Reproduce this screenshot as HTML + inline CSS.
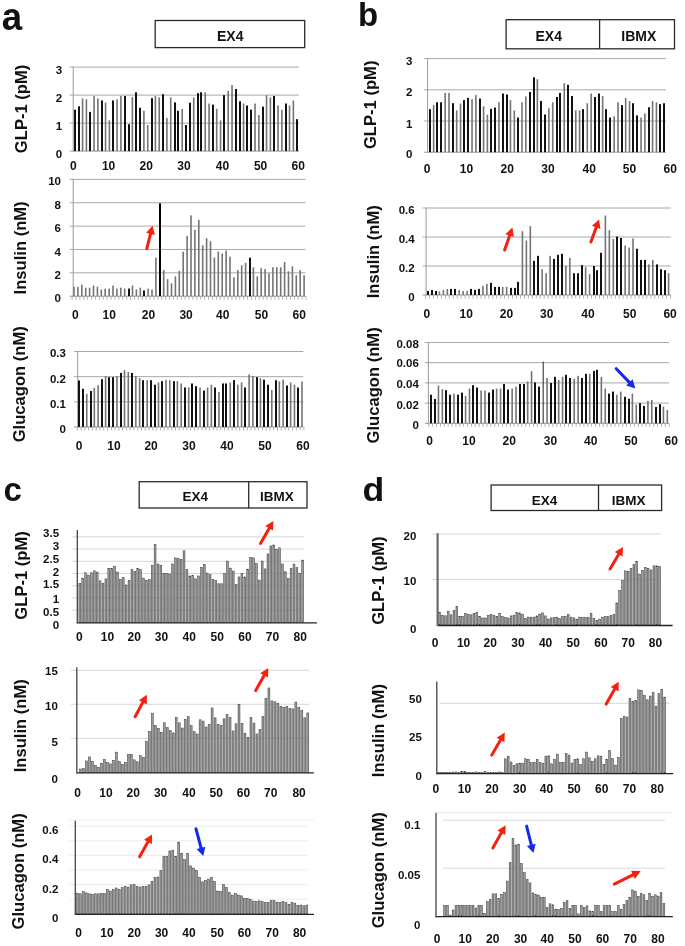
<!DOCTYPE html>
<html><head><meta charset="utf-8"><title>Figure</title>
<style>
html,body{margin:0;padding:0;background:#fff;}
body{width:685px;height:946px;overflow:hidden;font-family:"Liberation Sans",sans-serif;}
svg{display:block;filter:blur(0.4px);}
</style></head><body>
<svg width="685" height="946" viewBox="0 0 685 946" font-family="Liberation Sans, sans-serif" font-weight="bold" fill="#111">
<rect width="685" height="946" fill="#fff"/>
<line x1="69.7" y1="123.1" x2="299" y2="123.1" stroke="#a8a8a8" stroke-width="1.0"/>
<line x1="69.7" y1="95.1" x2="299" y2="95.1" stroke="#a8a8a8" stroke-width="1.0"/>
<line x1="69.7" y1="67.1" x2="299" y2="67.1" stroke="#a8a8a8" stroke-width="1.0"/>
<line x1="69.7" y1="151.1" x2="299" y2="151.1" stroke="#9a9a9a" stroke-width="1.0"/>
<line x1="73.2" y1="66.6" x2="73.2" y2="151.6" stroke="#9a9a9a" stroke-width="1.0"/>
<rect x="74" y="109.66" width="2" height="41.44" fill="#121212"/>
<rect x="78" y="106.3" width="2" height="44.8" fill="#121212"/>
<rect x="81.77" y="98.46" width="1.6" height="52.64" fill="#747474"/>
<rect x="85.6" y="99.3" width="1.6" height="51.8" fill="#747474"/>
<rect x="89" y="111.9" width="2" height="39.2" fill="#121212"/>
<rect x="93.26" y="95.94" width="1.6" height="55.16" fill="#747474"/>
<rect x="97.1" y="98.46" width="1.6" height="52.64" fill="#747474"/>
<rect x="101" y="100.42" width="2" height="50.68" fill="#121212"/>
<rect x="104.76" y="102.66" width="1.6" height="48.44" fill="#747474"/>
<rect x="108.59" y="120.3" width="1.6" height="30.8" fill="#747474"/>
<rect x="112" y="100.42" width="2" height="50.68" fill="#121212"/>
<rect x="116.26" y="99.3" width="1.6" height="51.8" fill="#747474"/>
<rect x="120.09" y="95.94" width="1.6" height="55.16" fill="#747474"/>
<rect x="124" y="95.94" width="2" height="55.16" fill="#121212"/>
<rect x="128" y="124.22" width="2" height="26.88" fill="#121212"/>
<rect x="131.59" y="97.06" width="1.6" height="54.04" fill="#747474"/>
<rect x="135" y="92.3" width="2" height="58.8" fill="#121212"/>
<rect x="139" y="107.7" width="2" height="43.4" fill="#121212"/>
<rect x="143.09" y="110.78" width="1.6" height="40.32" fill="#747474"/>
<rect x="146.92" y="125.06" width="1.6" height="26.04" fill="#747474"/>
<rect x="151" y="98.18" width="2" height="52.92" fill="#121212"/>
<rect x="154.59" y="95.94" width="1.6" height="55.16" fill="#747474"/>
<rect x="158.42" y="97.34" width="1.6" height="53.76" fill="#747474"/>
<rect x="162" y="94.26" width="2" height="56.84" fill="#121212"/>
<rect x="166.09" y="118.06" width="1.6" height="33.04" fill="#747474"/>
<rect x="169.92" y="97.34" width="1.6" height="53.76" fill="#747474"/>
<rect x="174" y="102.38" width="2" height="48.72" fill="#121212"/>
<rect x="177" y="110.78" width="2" height="40.32" fill="#121212"/>
<rect x="181.42" y="108.82" width="1.6" height="42.28" fill="#747474"/>
<rect x="185" y="125.06" width="2" height="26.04" fill="#121212"/>
<rect x="189" y="102.66" width="2" height="48.44" fill="#121212"/>
<rect x="192.92" y="97.34" width="1.6" height="53.76" fill="#747474"/>
<rect x="197" y="93.14" width="2" height="57.96" fill="#121212"/>
<rect x="200" y="92.3" width="2" height="58.8" fill="#121212"/>
<rect x="204.41" y="92.3" width="1.6" height="58.8" fill="#747474"/>
<rect x="208.25" y="103.5" width="1.6" height="47.6" fill="#747474"/>
<rect x="212" y="104.62" width="2" height="46.48" fill="#121212"/>
<rect x="215.91" y="108.82" width="1.6" height="42.28" fill="#747474"/>
<rect x="219.74" y="120.3" width="1.6" height="30.8" fill="#747474"/>
<rect x="223" y="95.1" width="2" height="56" fill="#121212"/>
<rect x="227.41" y="90.9" width="1.6" height="60.2" fill="#747474"/>
<rect x="231.24" y="85.02" width="1.6" height="66.08" fill="#747474"/>
<rect x="235" y="88.94" width="2" height="62.16" fill="#121212"/>
<rect x="239" y="101.26" width="2" height="49.84" fill="#121212"/>
<rect x="242.74" y="103.5" width="1.6" height="47.6" fill="#747474"/>
<rect x="246" y="105.46" width="2" height="45.64" fill="#121212"/>
<rect x="250" y="109.66" width="2" height="41.44" fill="#121212"/>
<rect x="254.24" y="103.5" width="1.6" height="47.6" fill="#747474"/>
<rect x="258.07" y="114.98" width="1.6" height="36.12" fill="#747474"/>
<rect x="262" y="106.58" width="2" height="44.52" fill="#121212"/>
<rect x="265.74" y="95.1" width="1.6" height="56" fill="#747474"/>
<rect x="269.57" y="97.34" width="1.6" height="53.76" fill="#747474"/>
<rect x="273" y="95.94" width="2" height="55.16" fill="#121212"/>
<rect x="277.24" y="105.46" width="1.6" height="45.64" fill="#747474"/>
<rect x="281.07" y="109.66" width="1.6" height="41.44" fill="#747474"/>
<rect x="285" y="103.5" width="2" height="47.6" fill="#121212"/>
<rect x="288.73" y="105.46" width="1.6" height="45.64" fill="#747474"/>
<rect x="292.57" y="100.42" width="1.6" height="50.68" fill="#747474"/>
<rect x="296" y="119.18" width="2" height="31.92" fill="#121212"/>
<line x1="69.7" y1="272.84" x2="305.6" y2="272.84" stroke="#a8a8a8" stroke-width="1.0"/>
<line x1="69.7" y1="249.48" x2="305.6" y2="249.48" stroke="#a8a8a8" stroke-width="1.0"/>
<line x1="69.7" y1="226.12" x2="305.6" y2="226.12" stroke="#a8a8a8" stroke-width="1.0"/>
<line x1="69.7" y1="202.76" x2="305.6" y2="202.76" stroke="#a8a8a8" stroke-width="1.0"/>
<line x1="69.7" y1="179.4" x2="305.6" y2="179.4" stroke="#a8a8a8" stroke-width="1.0"/>
<line x1="69.7" y1="296.2" x2="305.6" y2="296.2" stroke="#9a9a9a" stroke-width="1.0"/>
<line x1="73.2" y1="178.9" x2="73.2" y2="296.7" stroke="#9a9a9a" stroke-width="1.0"/>
<line x1="72.05" y1="296.2" x2="72.05" y2="299.7" stroke="#9a9a9a" stroke-width="0.8"/>
<line x1="75.95" y1="296.2" x2="75.95" y2="299.7" stroke="#9a9a9a" stroke-width="0.8"/>
<line x1="79.85" y1="296.2" x2="79.85" y2="299.7" stroke="#9a9a9a" stroke-width="0.8"/>
<line x1="83.75" y1="296.2" x2="83.75" y2="299.7" stroke="#9a9a9a" stroke-width="0.8"/>
<line x1="87.65" y1="296.2" x2="87.65" y2="299.7" stroke="#9a9a9a" stroke-width="0.8"/>
<line x1="91.55" y1="296.2" x2="91.55" y2="299.7" stroke="#9a9a9a" stroke-width="0.8"/>
<line x1="95.45" y1="296.2" x2="95.45" y2="299.7" stroke="#9a9a9a" stroke-width="0.8"/>
<line x1="99.35" y1="296.2" x2="99.35" y2="299.7" stroke="#9a9a9a" stroke-width="0.8"/>
<line x1="103.25" y1="296.2" x2="103.25" y2="299.7" stroke="#9a9a9a" stroke-width="0.8"/>
<line x1="107.15" y1="296.2" x2="107.15" y2="299.7" stroke="#9a9a9a" stroke-width="0.8"/>
<line x1="111.05" y1="296.2" x2="111.05" y2="299.7" stroke="#9a9a9a" stroke-width="0.8"/>
<line x1="114.95" y1="296.2" x2="114.95" y2="299.7" stroke="#9a9a9a" stroke-width="0.8"/>
<line x1="118.85" y1="296.2" x2="118.85" y2="299.7" stroke="#9a9a9a" stroke-width="0.8"/>
<line x1="122.75" y1="296.2" x2="122.75" y2="299.7" stroke="#9a9a9a" stroke-width="0.8"/>
<line x1="126.65" y1="296.2" x2="126.65" y2="299.7" stroke="#9a9a9a" stroke-width="0.8"/>
<line x1="130.55" y1="296.2" x2="130.55" y2="299.7" stroke="#9a9a9a" stroke-width="0.8"/>
<line x1="134.45" y1="296.2" x2="134.45" y2="299.7" stroke="#9a9a9a" stroke-width="0.8"/>
<line x1="138.35" y1="296.2" x2="138.35" y2="299.7" stroke="#9a9a9a" stroke-width="0.8"/>
<line x1="142.25" y1="296.2" x2="142.25" y2="299.7" stroke="#9a9a9a" stroke-width="0.8"/>
<line x1="146.15" y1="296.2" x2="146.15" y2="299.7" stroke="#9a9a9a" stroke-width="0.8"/>
<line x1="150.05" y1="296.2" x2="150.05" y2="299.7" stroke="#9a9a9a" stroke-width="0.8"/>
<line x1="153.95" y1="296.2" x2="153.95" y2="299.7" stroke="#9a9a9a" stroke-width="0.8"/>
<line x1="157.85" y1="296.2" x2="157.85" y2="299.7" stroke="#9a9a9a" stroke-width="0.8"/>
<line x1="161.75" y1="296.2" x2="161.75" y2="299.7" stroke="#9a9a9a" stroke-width="0.8"/>
<line x1="165.65" y1="296.2" x2="165.65" y2="299.7" stroke="#9a9a9a" stroke-width="0.8"/>
<line x1="169.55" y1="296.2" x2="169.55" y2="299.7" stroke="#9a9a9a" stroke-width="0.8"/>
<line x1="173.45" y1="296.2" x2="173.45" y2="299.7" stroke="#9a9a9a" stroke-width="0.8"/>
<line x1="177.35" y1="296.2" x2="177.35" y2="299.7" stroke="#9a9a9a" stroke-width="0.8"/>
<line x1="181.25" y1="296.2" x2="181.25" y2="299.7" stroke="#9a9a9a" stroke-width="0.8"/>
<line x1="185.15" y1="296.2" x2="185.15" y2="299.7" stroke="#9a9a9a" stroke-width="0.8"/>
<line x1="189.05" y1="296.2" x2="189.05" y2="299.7" stroke="#9a9a9a" stroke-width="0.8"/>
<line x1="192.95" y1="296.2" x2="192.95" y2="299.7" stroke="#9a9a9a" stroke-width="0.8"/>
<line x1="196.85" y1="296.2" x2="196.85" y2="299.7" stroke="#9a9a9a" stroke-width="0.8"/>
<line x1="200.75" y1="296.2" x2="200.75" y2="299.7" stroke="#9a9a9a" stroke-width="0.8"/>
<line x1="204.65" y1="296.2" x2="204.65" y2="299.7" stroke="#9a9a9a" stroke-width="0.8"/>
<line x1="208.55" y1="296.2" x2="208.55" y2="299.7" stroke="#9a9a9a" stroke-width="0.8"/>
<line x1="212.45" y1="296.2" x2="212.45" y2="299.7" stroke="#9a9a9a" stroke-width="0.8"/>
<line x1="216.35" y1="296.2" x2="216.35" y2="299.7" stroke="#9a9a9a" stroke-width="0.8"/>
<line x1="220.25" y1="296.2" x2="220.25" y2="299.7" stroke="#9a9a9a" stroke-width="0.8"/>
<line x1="224.15" y1="296.2" x2="224.15" y2="299.7" stroke="#9a9a9a" stroke-width="0.8"/>
<line x1="228.05" y1="296.2" x2="228.05" y2="299.7" stroke="#9a9a9a" stroke-width="0.8"/>
<line x1="231.95" y1="296.2" x2="231.95" y2="299.7" stroke="#9a9a9a" stroke-width="0.8"/>
<line x1="235.85" y1="296.2" x2="235.85" y2="299.7" stroke="#9a9a9a" stroke-width="0.8"/>
<line x1="239.75" y1="296.2" x2="239.75" y2="299.7" stroke="#9a9a9a" stroke-width="0.8"/>
<line x1="243.65" y1="296.2" x2="243.65" y2="299.7" stroke="#9a9a9a" stroke-width="0.8"/>
<line x1="247.55" y1="296.2" x2="247.55" y2="299.7" stroke="#9a9a9a" stroke-width="0.8"/>
<line x1="251.45" y1="296.2" x2="251.45" y2="299.7" stroke="#9a9a9a" stroke-width="0.8"/>
<line x1="255.35" y1="296.2" x2="255.35" y2="299.7" stroke="#9a9a9a" stroke-width="0.8"/>
<line x1="259.25" y1="296.2" x2="259.25" y2="299.7" stroke="#9a9a9a" stroke-width="0.8"/>
<line x1="263.15" y1="296.2" x2="263.15" y2="299.7" stroke="#9a9a9a" stroke-width="0.8"/>
<line x1="267.05" y1="296.2" x2="267.05" y2="299.7" stroke="#9a9a9a" stroke-width="0.8"/>
<line x1="270.95" y1="296.2" x2="270.95" y2="299.7" stroke="#9a9a9a" stroke-width="0.8"/>
<line x1="274.85" y1="296.2" x2="274.85" y2="299.7" stroke="#9a9a9a" stroke-width="0.8"/>
<line x1="278.75" y1="296.2" x2="278.75" y2="299.7" stroke="#9a9a9a" stroke-width="0.8"/>
<line x1="282.65" y1="296.2" x2="282.65" y2="299.7" stroke="#9a9a9a" stroke-width="0.8"/>
<line x1="286.55" y1="296.2" x2="286.55" y2="299.7" stroke="#9a9a9a" stroke-width="0.8"/>
<line x1="290.45" y1="296.2" x2="290.45" y2="299.7" stroke="#9a9a9a" stroke-width="0.8"/>
<line x1="294.35" y1="296.2" x2="294.35" y2="299.7" stroke="#9a9a9a" stroke-width="0.8"/>
<line x1="298.25" y1="296.2" x2="298.25" y2="299.7" stroke="#9a9a9a" stroke-width="0.8"/>
<line x1="302.15" y1="296.2" x2="302.15" y2="299.7" stroke="#9a9a9a" stroke-width="0.8"/>
<line x1="306.05" y1="296.2" x2="306.05" y2="299.7" stroke="#9a9a9a" stroke-width="0.8"/>
<rect x="73.2" y="286.74" width="1.6" height="9.46" fill="#747474"/>
<rect x="77.1" y="286.74" width="1.6" height="9.46" fill="#747474"/>
<rect x="81" y="284.64" width="1.6" height="11.56" fill="#747474"/>
<rect x="84.9" y="287.67" width="1.6" height="8.53" fill="#747474"/>
<rect x="88.8" y="287.67" width="1.6" height="8.53" fill="#747474"/>
<rect x="92.7" y="285.57" width="1.6" height="10.63" fill="#747474"/>
<rect x="96.6" y="286.74" width="1.6" height="9.46" fill="#747474"/>
<rect x="100.5" y="289.54" width="1.6" height="6.66" fill="#747474"/>
<rect x="104.4" y="288.61" width="1.6" height="7.59" fill="#747474"/>
<rect x="108.3" y="288.61" width="1.6" height="7.59" fill="#747474"/>
<rect x="112.2" y="285.57" width="1.6" height="10.63" fill="#747474"/>
<rect x="116.1" y="288.61" width="1.6" height="7.59" fill="#747474"/>
<rect x="120" y="287.67" width="1.6" height="8.53" fill="#747474"/>
<rect x="123.9" y="288.61" width="1.6" height="7.59" fill="#747474"/>
<rect x="128" y="288.61" width="2" height="7.59" fill="#121212"/>
<rect x="131.7" y="285.57" width="1.6" height="10.63" fill="#747474"/>
<rect x="135.6" y="289.54" width="1.6" height="6.66" fill="#747474"/>
<rect x="139.5" y="287.67" width="1.6" height="8.53" fill="#747474"/>
<rect x="143" y="290.48" width="2" height="5.72" fill="#121212"/>
<rect x="147.3" y="288.61" width="1.6" height="7.59" fill="#747474"/>
<rect x="151.2" y="289.54" width="1.6" height="6.66" fill="#747474"/>
<rect x="155.1" y="257.66" width="1.6" height="38.54" fill="#747474"/>
<rect x="159" y="203.34" width="2" height="92.86" fill="#000"/>
<rect x="162.9" y="270.04" width="1.6" height="26.16" fill="#747474"/>
<rect x="166.8" y="279.15" width="1.6" height="17.05" fill="#747474"/>
<rect x="170.7" y="283.35" width="1.6" height="12.85" fill="#747474"/>
<rect x="174.6" y="276.34" width="1.6" height="19.86" fill="#747474"/>
<rect x="178.5" y="270.97" width="1.6" height="25.23" fill="#747474"/>
<rect x="182.4" y="251.7" width="1.6" height="44.5" fill="#747474"/>
<rect x="186.3" y="235.93" width="1.6" height="60.27" fill="#747474"/>
<rect x="190.2" y="215.37" width="1.6" height="80.83" fill="#747474"/>
<rect x="194.1" y="229.86" width="1.6" height="66.34" fill="#747474"/>
<rect x="198" y="219.81" width="1.6" height="76.39" fill="#747474"/>
<rect x="201.9" y="245.39" width="1.6" height="50.81" fill="#747474"/>
<rect x="205.8" y="238.15" width="1.6" height="58.05" fill="#747474"/>
<rect x="209.7" y="241.19" width="1.6" height="55.01" fill="#747474"/>
<rect x="213.6" y="257.66" width="1.6" height="38.54" fill="#747474"/>
<rect x="217.5" y="251.7" width="1.6" height="44.5" fill="#747474"/>
<rect x="221.4" y="253.57" width="1.6" height="42.63" fill="#747474"/>
<rect x="225.3" y="250.53" width="1.6" height="45.67" fill="#747474"/>
<rect x="229.2" y="256.72" width="1.6" height="39.48" fill="#747474"/>
<rect x="233.1" y="277.28" width="1.6" height="18.92" fill="#747474"/>
<rect x="237" y="270.04" width="1.6" height="26.16" fill="#747474"/>
<rect x="240.9" y="265.25" width="1.6" height="30.95" fill="#747474"/>
<rect x="244.8" y="262.8" width="1.6" height="33.4" fill="#747474"/>
<rect x="249" y="257.66" width="2" height="38.54" fill="#121212"/>
<rect x="252.6" y="267.23" width="1.6" height="28.97" fill="#747474"/>
<rect x="256.5" y="276.34" width="1.6" height="19.86" fill="#747474"/>
<rect x="260.4" y="268.17" width="1.6" height="28.03" fill="#747474"/>
<rect x="264.3" y="269.1" width="1.6" height="27.1" fill="#747474"/>
<rect x="268.2" y="273.31" width="1.6" height="22.89" fill="#747474"/>
<rect x="272.1" y="267.23" width="1.6" height="28.97" fill="#747474"/>
<rect x="276" y="267.23" width="1.6" height="28.97" fill="#747474"/>
<rect x="279.9" y="267.23" width="1.6" height="28.97" fill="#747474"/>
<rect x="283.8" y="262.09" width="1.6" height="34.11" fill="#747474"/>
<rect x="287.7" y="271.32" width="1.6" height="24.88" fill="#747474"/>
<rect x="291.6" y="266.3" width="1.6" height="29.9" fill="#747474"/>
<rect x="295.5" y="275.29" width="1.6" height="20.91" fill="#747474"/>
<rect x="299.4" y="270.04" width="1.6" height="26.16" fill="#747474"/>
<rect x="303.3" y="275.29" width="1.6" height="20.91" fill="#747474"/>
<line x1="74" y1="401.83" x2="303.3" y2="401.83" stroke="#a8a8a8" stroke-width="1.0"/>
<line x1="74" y1="376.66" x2="303.3" y2="376.66" stroke="#a8a8a8" stroke-width="1.0"/>
<line x1="74" y1="351.49" x2="303.3" y2="351.49" stroke="#a8a8a8" stroke-width="1.0"/>
<line x1="74" y1="427" x2="303.3" y2="427" stroke="#9a9a9a" stroke-width="1.0"/>
<line x1="77.7" y1="350.99" x2="77.7" y2="427.5" stroke="#9a9a9a" stroke-width="1.0"/>
<line x1="77.31" y1="427" x2="77.31" y2="430.5" stroke="#9a9a9a" stroke-width="0.8"/>
<line x1="81.09" y1="427" x2="81.09" y2="430.5" stroke="#9a9a9a" stroke-width="0.8"/>
<line x1="84.86" y1="427" x2="84.86" y2="430.5" stroke="#9a9a9a" stroke-width="0.8"/>
<line x1="88.64" y1="427" x2="88.64" y2="430.5" stroke="#9a9a9a" stroke-width="0.8"/>
<line x1="92.42" y1="427" x2="92.42" y2="430.5" stroke="#9a9a9a" stroke-width="0.8"/>
<line x1="96.19" y1="427" x2="96.19" y2="430.5" stroke="#9a9a9a" stroke-width="0.8"/>
<line x1="99.97" y1="427" x2="99.97" y2="430.5" stroke="#9a9a9a" stroke-width="0.8"/>
<line x1="103.75" y1="427" x2="103.75" y2="430.5" stroke="#9a9a9a" stroke-width="0.8"/>
<line x1="107.52" y1="427" x2="107.52" y2="430.5" stroke="#9a9a9a" stroke-width="0.8"/>
<line x1="111.3" y1="427" x2="111.3" y2="430.5" stroke="#9a9a9a" stroke-width="0.8"/>
<line x1="115.07" y1="427" x2="115.07" y2="430.5" stroke="#9a9a9a" stroke-width="0.8"/>
<line x1="118.85" y1="427" x2="118.85" y2="430.5" stroke="#9a9a9a" stroke-width="0.8"/>
<line x1="122.63" y1="427" x2="122.63" y2="430.5" stroke="#9a9a9a" stroke-width="0.8"/>
<line x1="126.4" y1="427" x2="126.4" y2="430.5" stroke="#9a9a9a" stroke-width="0.8"/>
<line x1="130.18" y1="427" x2="130.18" y2="430.5" stroke="#9a9a9a" stroke-width="0.8"/>
<line x1="133.96" y1="427" x2="133.96" y2="430.5" stroke="#9a9a9a" stroke-width="0.8"/>
<line x1="137.73" y1="427" x2="137.73" y2="430.5" stroke="#9a9a9a" stroke-width="0.8"/>
<line x1="141.51" y1="427" x2="141.51" y2="430.5" stroke="#9a9a9a" stroke-width="0.8"/>
<line x1="145.28" y1="427" x2="145.28" y2="430.5" stroke="#9a9a9a" stroke-width="0.8"/>
<line x1="149.06" y1="427" x2="149.06" y2="430.5" stroke="#9a9a9a" stroke-width="0.8"/>
<line x1="152.84" y1="427" x2="152.84" y2="430.5" stroke="#9a9a9a" stroke-width="0.8"/>
<line x1="156.61" y1="427" x2="156.61" y2="430.5" stroke="#9a9a9a" stroke-width="0.8"/>
<line x1="160.39" y1="427" x2="160.39" y2="430.5" stroke="#9a9a9a" stroke-width="0.8"/>
<line x1="164.17" y1="427" x2="164.17" y2="430.5" stroke="#9a9a9a" stroke-width="0.8"/>
<line x1="167.94" y1="427" x2="167.94" y2="430.5" stroke="#9a9a9a" stroke-width="0.8"/>
<line x1="171.72" y1="427" x2="171.72" y2="430.5" stroke="#9a9a9a" stroke-width="0.8"/>
<line x1="175.49" y1="427" x2="175.49" y2="430.5" stroke="#9a9a9a" stroke-width="0.8"/>
<line x1="179.27" y1="427" x2="179.27" y2="430.5" stroke="#9a9a9a" stroke-width="0.8"/>
<line x1="183.05" y1="427" x2="183.05" y2="430.5" stroke="#9a9a9a" stroke-width="0.8"/>
<line x1="186.82" y1="427" x2="186.82" y2="430.5" stroke="#9a9a9a" stroke-width="0.8"/>
<line x1="190.6" y1="427" x2="190.6" y2="430.5" stroke="#9a9a9a" stroke-width="0.8"/>
<line x1="194.38" y1="427" x2="194.38" y2="430.5" stroke="#9a9a9a" stroke-width="0.8"/>
<line x1="198.15" y1="427" x2="198.15" y2="430.5" stroke="#9a9a9a" stroke-width="0.8"/>
<line x1="201.93" y1="427" x2="201.93" y2="430.5" stroke="#9a9a9a" stroke-width="0.8"/>
<line x1="205.71" y1="427" x2="205.71" y2="430.5" stroke="#9a9a9a" stroke-width="0.8"/>
<line x1="209.48" y1="427" x2="209.48" y2="430.5" stroke="#9a9a9a" stroke-width="0.8"/>
<line x1="213.26" y1="427" x2="213.26" y2="430.5" stroke="#9a9a9a" stroke-width="0.8"/>
<line x1="217.03" y1="427" x2="217.03" y2="430.5" stroke="#9a9a9a" stroke-width="0.8"/>
<line x1="220.81" y1="427" x2="220.81" y2="430.5" stroke="#9a9a9a" stroke-width="0.8"/>
<line x1="224.59" y1="427" x2="224.59" y2="430.5" stroke="#9a9a9a" stroke-width="0.8"/>
<line x1="228.36" y1="427" x2="228.36" y2="430.5" stroke="#9a9a9a" stroke-width="0.8"/>
<line x1="232.14" y1="427" x2="232.14" y2="430.5" stroke="#9a9a9a" stroke-width="0.8"/>
<line x1="235.92" y1="427" x2="235.92" y2="430.5" stroke="#9a9a9a" stroke-width="0.8"/>
<line x1="239.69" y1="427" x2="239.69" y2="430.5" stroke="#9a9a9a" stroke-width="0.8"/>
<line x1="243.47" y1="427" x2="243.47" y2="430.5" stroke="#9a9a9a" stroke-width="0.8"/>
<line x1="247.24" y1="427" x2="247.24" y2="430.5" stroke="#9a9a9a" stroke-width="0.8"/>
<line x1="251.02" y1="427" x2="251.02" y2="430.5" stroke="#9a9a9a" stroke-width="0.8"/>
<line x1="254.8" y1="427" x2="254.8" y2="430.5" stroke="#9a9a9a" stroke-width="0.8"/>
<line x1="258.57" y1="427" x2="258.57" y2="430.5" stroke="#9a9a9a" stroke-width="0.8"/>
<line x1="262.35" y1="427" x2="262.35" y2="430.5" stroke="#9a9a9a" stroke-width="0.8"/>
<line x1="266.13" y1="427" x2="266.13" y2="430.5" stroke="#9a9a9a" stroke-width="0.8"/>
<line x1="269.9" y1="427" x2="269.9" y2="430.5" stroke="#9a9a9a" stroke-width="0.8"/>
<line x1="273.68" y1="427" x2="273.68" y2="430.5" stroke="#9a9a9a" stroke-width="0.8"/>
<line x1="277.45" y1="427" x2="277.45" y2="430.5" stroke="#9a9a9a" stroke-width="0.8"/>
<line x1="281.23" y1="427" x2="281.23" y2="430.5" stroke="#9a9a9a" stroke-width="0.8"/>
<line x1="285.01" y1="427" x2="285.01" y2="430.5" stroke="#9a9a9a" stroke-width="0.8"/>
<line x1="288.78" y1="427" x2="288.78" y2="430.5" stroke="#9a9a9a" stroke-width="0.8"/>
<line x1="292.56" y1="427" x2="292.56" y2="430.5" stroke="#9a9a9a" stroke-width="0.8"/>
<line x1="296.34" y1="427" x2="296.34" y2="430.5" stroke="#9a9a9a" stroke-width="0.8"/>
<line x1="300.11" y1="427" x2="300.11" y2="430.5" stroke="#9a9a9a" stroke-width="0.8"/>
<line x1="303.89" y1="427" x2="303.89" y2="430.5" stroke="#9a9a9a" stroke-width="0.8"/>
<rect x="78" y="380.44" width="2" height="46.56" fill="#121212"/>
<rect x="82" y="388.74" width="2" height="38.26" fill="#121212"/>
<rect x="85.95" y="393.78" width="1.6" height="33.22" fill="#747474"/>
<rect x="90" y="391.01" width="2" height="35.99" fill="#121212"/>
<rect x="93.51" y="387.73" width="1.6" height="39.27" fill="#747474"/>
<rect x="97.28" y="385.22" width="1.6" height="41.78" fill="#747474"/>
<rect x="101" y="379.18" width="2" height="47.82" fill="#121212"/>
<rect x="104.83" y="376.16" width="1.6" height="50.84" fill="#747474"/>
<rect x="108" y="377.16" width="2" height="49.84" fill="#121212"/>
<rect x="112" y="377.16" width="2" height="49.84" fill="#121212"/>
<rect x="116.16" y="376.16" width="1.6" height="50.84" fill="#747474"/>
<rect x="120" y="372.88" width="2" height="54.12" fill="#121212"/>
<rect x="123.72" y="370.12" width="1.6" height="56.88" fill="#747474"/>
<rect x="127.49" y="371.88" width="1.6" height="55.12" fill="#747474"/>
<rect x="131" y="372.88" width="2" height="54.12" fill="#121212"/>
<rect x="135.04" y="376.16" width="1.6" height="50.84" fill="#747474"/>
<rect x="138.82" y="378.17" width="1.6" height="48.83" fill="#747474"/>
<rect x="142" y="380.18" width="2" height="46.82" fill="#121212"/>
<rect x="146.37" y="380.18" width="1.6" height="46.82" fill="#747474"/>
<rect x="150" y="380.18" width="2" height="46.82" fill="#121212"/>
<rect x="154" y="384.71" width="2" height="42.29" fill="#121212"/>
<rect x="157.7" y="382.45" width="1.6" height="44.55" fill="#747474"/>
<rect x="161" y="381.19" width="2" height="45.81" fill="#121212"/>
<rect x="165.25" y="379.68" width="1.6" height="47.32" fill="#747474"/>
<rect x="169.03" y="380.18" width="1.6" height="46.82" fill="#747474"/>
<rect x="173" y="381.19" width="2" height="45.81" fill="#121212"/>
<rect x="176.58" y="381.19" width="1.6" height="45.81" fill="#747474"/>
<rect x="180.36" y="383.46" width="1.6" height="43.54" fill="#747474"/>
<rect x="184" y="387.48" width="2" height="39.52" fill="#121212"/>
<rect x="187.91" y="387.48" width="1.6" height="39.52" fill="#747474"/>
<rect x="191" y="383.46" width="2" height="43.54" fill="#121212"/>
<rect x="195" y="386.22" width="2" height="40.78" fill="#121212"/>
<rect x="199.24" y="387.48" width="1.6" height="39.52" fill="#747474"/>
<rect x="203" y="390.5" width="2" height="36.5" fill="#121212"/>
<rect x="206.79" y="387.48" width="1.6" height="39.52" fill="#747474"/>
<rect x="210.57" y="384.71" width="1.6" height="42.29" fill="#747474"/>
<rect x="214" y="387.48" width="2" height="39.52" fill="#121212"/>
<rect x="218.12" y="392.01" width="1.6" height="34.99" fill="#747474"/>
<rect x="222" y="383.46" width="2" height="43.54" fill="#121212"/>
<rect x="225" y="383.46" width="2" height="43.54" fill="#121212"/>
<rect x="229.45" y="382.45" width="1.6" height="44.55" fill="#747474"/>
<rect x="233" y="380.18" width="2" height="46.82" fill="#121212"/>
<rect x="237" y="384.71" width="1.6" height="42.29" fill="#747474"/>
<rect x="240.78" y="382.45" width="1.6" height="44.55" fill="#747474"/>
<rect x="244" y="387.48" width="2" height="39.52" fill="#121212"/>
<rect x="248.33" y="374.39" width="1.6" height="52.61" fill="#747474"/>
<rect x="252.11" y="376.16" width="1.6" height="50.84" fill="#747474"/>
<rect x="256" y="377.16" width="2" height="49.84" fill="#121212"/>
<rect x="259.66" y="378.17" width="1.6" height="48.83" fill="#747474"/>
<rect x="263" y="379.68" width="2" height="47.32" fill="#121212"/>
<rect x="267" y="384.71" width="2" height="42.29" fill="#121212"/>
<rect x="270.99" y="390" width="1.6" height="37" fill="#747474"/>
<rect x="275" y="380.18" width="2" height="46.82" fill="#121212"/>
<rect x="278.54" y="381.44" width="1.6" height="45.56" fill="#747474"/>
<rect x="282.32" y="379.68" width="1.6" height="47.32" fill="#747474"/>
<rect x="286" y="385.47" width="2" height="41.53" fill="#121212"/>
<rect x="289.87" y="382.45" width="1.6" height="44.55" fill="#747474"/>
<rect x="293.65" y="384.71" width="1.6" height="42.29" fill="#747474"/>
<rect x="297" y="387.48" width="2" height="39.52" fill="#121212"/>
<rect x="301.2" y="381.44" width="1.6" height="45.56" fill="#747474"/>
<line x1="424" y1="121" x2="665.9" y2="121" stroke="#a8a8a8" stroke-width="1.0"/>
<line x1="424" y1="89.8" x2="665.9" y2="89.8" stroke="#a8a8a8" stroke-width="1.0"/>
<line x1="424" y1="58.6" x2="665.9" y2="58.6" stroke="#a8a8a8" stroke-width="1.0"/>
<line x1="424" y1="152.2" x2="665.9" y2="152.2" stroke="#9a9a9a" stroke-width="1.0"/>
<line x1="427.6" y1="58.1" x2="427.6" y2="152.7" stroke="#9a9a9a" stroke-width="1.0"/>
<rect x="429" y="109.14" width="2" height="43.06" fill="#121212"/>
<rect x="432.84" y="105.09" width="1.6" height="47.11" fill="#747474"/>
<rect x="436" y="102.28" width="2" height="49.92" fill="#121212"/>
<rect x="440" y="102.28" width="2" height="49.92" fill="#121212"/>
<rect x="444.36" y="92.92" width="1.6" height="59.28" fill="#747474"/>
<rect x="448.2" y="92.92" width="1.6" height="59.28" fill="#747474"/>
<rect x="452" y="103.22" width="2" height="48.98" fill="#121212"/>
<rect x="455.89" y="110.39" width="1.6" height="41.81" fill="#747474"/>
<rect x="459.73" y="103.53" width="1.6" height="48.67" fill="#747474"/>
<rect x="463" y="100.1" width="2" height="52.1" fill="#121212"/>
<rect x="467" y="97.91" width="2" height="54.29" fill="#121212"/>
<rect x="471.25" y="99.16" width="1.6" height="53.04" fill="#747474"/>
<rect x="475.09" y="95.1" width="1.6" height="57.1" fill="#747474"/>
<rect x="479" y="98.54" width="2" height="53.66" fill="#121212"/>
<rect x="482.77" y="106.34" width="1.6" height="45.86" fill="#747474"/>
<rect x="486.61" y="114.76" width="1.6" height="37.44" fill="#747474"/>
<rect x="490" y="108.83" width="2" height="43.37" fill="#121212"/>
<rect x="494" y="107.58" width="2" height="44.62" fill="#121212"/>
<rect x="498.14" y="102.28" width="1.6" height="49.92" fill="#747474"/>
<rect x="502" y="93.54" width="2" height="58.66" fill="#121212"/>
<rect x="506" y="94.48" width="2" height="57.72" fill="#121212"/>
<rect x="509.66" y="100.1" width="1.6" height="52.1" fill="#747474"/>
<rect x="513.5" y="110.39" width="1.6" height="41.81" fill="#747474"/>
<rect x="517" y="117.57" width="2" height="34.63" fill="#121212"/>
<rect x="521.18" y="102.28" width="1.6" height="49.92" fill="#747474"/>
<rect x="525.02" y="96.35" width="1.6" height="55.85" fill="#747474"/>
<rect x="529" y="91.98" width="2" height="60.22" fill="#121212"/>
<rect x="533" y="77.32" width="2" height="74.88" fill="#121212"/>
<rect x="536.55" y="79.19" width="1.6" height="73.01" fill="#747474"/>
<rect x="540" y="101.03" width="2" height="51.17" fill="#121212"/>
<rect x="544" y="114.45" width="2" height="37.75" fill="#121212"/>
<rect x="548.07" y="108.21" width="1.6" height="43.99" fill="#747474"/>
<rect x="551.91" y="102.28" width="1.6" height="49.92" fill="#747474"/>
<rect x="556" y="96.98" width="2" height="55.22" fill="#121212"/>
<rect x="559" y="92.92" width="2" height="59.28" fill="#121212"/>
<rect x="563.43" y="83.25" width="1.6" height="68.95" fill="#747474"/>
<rect x="567" y="84.81" width="2" height="67.39" fill="#121212"/>
<rect x="571" y="96.04" width="2" height="56.16" fill="#121212"/>
<rect x="574.96" y="110.39" width="1.6" height="41.81" fill="#747474"/>
<rect x="578.8" y="110.39" width="1.6" height="41.81" fill="#747474"/>
<rect x="582" y="109.14" width="2" height="43.06" fill="#121212"/>
<rect x="586.48" y="103.22" width="1.6" height="48.98" fill="#747474"/>
<rect x="590.32" y="93.54" width="1.6" height="58.66" fill="#747474"/>
<rect x="594" y="96.98" width="2" height="55.22" fill="#121212"/>
<rect x="598" y="93.54" width="2" height="58.66" fill="#121212"/>
<rect x="601.84" y="96.04" width="1.6" height="56.16" fill="#747474"/>
<rect x="605" y="109.14" width="2" height="43.06" fill="#121212"/>
<rect x="609" y="117.57" width="2" height="34.63" fill="#121212"/>
<rect x="613.37" y="116.32" width="1.6" height="35.88" fill="#747474"/>
<rect x="617.21" y="102.28" width="1.6" height="49.92" fill="#747474"/>
<rect x="621" y="105.09" width="2" height="47.11" fill="#121212"/>
<rect x="624.89" y="97.91" width="1.6" height="54.29" fill="#747474"/>
<rect x="628.73" y="101.03" width="1.6" height="51.17" fill="#747474"/>
<rect x="632" y="103.22" width="2" height="48.98" fill="#121212"/>
<rect x="636" y="115.38" width="2" height="36.82" fill="#121212"/>
<rect x="640.25" y="117.57" width="1.6" height="34.63" fill="#747474"/>
<rect x="644.1" y="113.51" width="1.6" height="38.69" fill="#747474"/>
<rect x="648" y="107.27" width="2" height="44.93" fill="#121212"/>
<rect x="651.78" y="101.03" width="1.6" height="51.17" fill="#747474"/>
<rect x="655.62" y="102.28" width="1.6" height="49.92" fill="#747474"/>
<rect x="659" y="104.15" width="2" height="48.05" fill="#121212"/>
<rect x="663" y="103.22" width="2" height="48.98" fill="#121212"/>
<line x1="422.5" y1="266" x2="670.8" y2="266" stroke="#a8a8a8" stroke-width="1.0"/>
<line x1="422.5" y1="237" x2="670.8" y2="237" stroke="#a8a8a8" stroke-width="1.0"/>
<line x1="422.5" y1="208" x2="670.8" y2="208" stroke="#a8a8a8" stroke-width="1.0"/>
<line x1="422.5" y1="295" x2="670.8" y2="295" stroke="#9a9a9a" stroke-width="1.0"/>
<line x1="426.1" y1="207.5" x2="426.1" y2="295.5" stroke="#9a9a9a" stroke-width="1.0"/>
<line x1="425.62" y1="295" x2="425.62" y2="298.5" stroke="#9a9a9a" stroke-width="0.8"/>
<line x1="429.58" y1="295" x2="429.58" y2="298.5" stroke="#9a9a9a" stroke-width="0.8"/>
<line x1="433.53" y1="295" x2="433.53" y2="298.5" stroke="#9a9a9a" stroke-width="0.8"/>
<line x1="437.48" y1="295" x2="437.48" y2="298.5" stroke="#9a9a9a" stroke-width="0.8"/>
<line x1="441.43" y1="295" x2="441.43" y2="298.5" stroke="#9a9a9a" stroke-width="0.8"/>
<line x1="445.38" y1="295" x2="445.38" y2="298.5" stroke="#9a9a9a" stroke-width="0.8"/>
<line x1="449.33" y1="295" x2="449.33" y2="298.5" stroke="#9a9a9a" stroke-width="0.8"/>
<line x1="453.28" y1="295" x2="453.28" y2="298.5" stroke="#9a9a9a" stroke-width="0.8"/>
<line x1="457.23" y1="295" x2="457.23" y2="298.5" stroke="#9a9a9a" stroke-width="0.8"/>
<line x1="461.18" y1="295" x2="461.18" y2="298.5" stroke="#9a9a9a" stroke-width="0.8"/>
<line x1="465.13" y1="295" x2="465.13" y2="298.5" stroke="#9a9a9a" stroke-width="0.8"/>
<line x1="469.08" y1="295" x2="469.08" y2="298.5" stroke="#9a9a9a" stroke-width="0.8"/>
<line x1="473.03" y1="295" x2="473.03" y2="298.5" stroke="#9a9a9a" stroke-width="0.8"/>
<line x1="476.99" y1="295" x2="476.99" y2="298.5" stroke="#9a9a9a" stroke-width="0.8"/>
<line x1="480.94" y1="295" x2="480.94" y2="298.5" stroke="#9a9a9a" stroke-width="0.8"/>
<line x1="484.89" y1="295" x2="484.89" y2="298.5" stroke="#9a9a9a" stroke-width="0.8"/>
<line x1="488.84" y1="295" x2="488.84" y2="298.5" stroke="#9a9a9a" stroke-width="0.8"/>
<line x1="492.79" y1="295" x2="492.79" y2="298.5" stroke="#9a9a9a" stroke-width="0.8"/>
<line x1="496.74" y1="295" x2="496.74" y2="298.5" stroke="#9a9a9a" stroke-width="0.8"/>
<line x1="500.69" y1="295" x2="500.69" y2="298.5" stroke="#9a9a9a" stroke-width="0.8"/>
<line x1="504.64" y1="295" x2="504.64" y2="298.5" stroke="#9a9a9a" stroke-width="0.8"/>
<line x1="508.59" y1="295" x2="508.59" y2="298.5" stroke="#9a9a9a" stroke-width="0.8"/>
<line x1="512.54" y1="295" x2="512.54" y2="298.5" stroke="#9a9a9a" stroke-width="0.8"/>
<line x1="516.49" y1="295" x2="516.49" y2="298.5" stroke="#9a9a9a" stroke-width="0.8"/>
<line x1="520.44" y1="295" x2="520.44" y2="298.5" stroke="#9a9a9a" stroke-width="0.8"/>
<line x1="524.4" y1="295" x2="524.4" y2="298.5" stroke="#9a9a9a" stroke-width="0.8"/>
<line x1="528.35" y1="295" x2="528.35" y2="298.5" stroke="#9a9a9a" stroke-width="0.8"/>
<line x1="532.3" y1="295" x2="532.3" y2="298.5" stroke="#9a9a9a" stroke-width="0.8"/>
<line x1="536.25" y1="295" x2="536.25" y2="298.5" stroke="#9a9a9a" stroke-width="0.8"/>
<line x1="540.2" y1="295" x2="540.2" y2="298.5" stroke="#9a9a9a" stroke-width="0.8"/>
<line x1="544.15" y1="295" x2="544.15" y2="298.5" stroke="#9a9a9a" stroke-width="0.8"/>
<line x1="548.1" y1="295" x2="548.1" y2="298.5" stroke="#9a9a9a" stroke-width="0.8"/>
<line x1="552.05" y1="295" x2="552.05" y2="298.5" stroke="#9a9a9a" stroke-width="0.8"/>
<line x1="556" y1="295" x2="556" y2="298.5" stroke="#9a9a9a" stroke-width="0.8"/>
<line x1="559.95" y1="295" x2="559.95" y2="298.5" stroke="#9a9a9a" stroke-width="0.8"/>
<line x1="563.9" y1="295" x2="563.9" y2="298.5" stroke="#9a9a9a" stroke-width="0.8"/>
<line x1="567.85" y1="295" x2="567.85" y2="298.5" stroke="#9a9a9a" stroke-width="0.8"/>
<line x1="571.8" y1="295" x2="571.8" y2="298.5" stroke="#9a9a9a" stroke-width="0.8"/>
<line x1="575.76" y1="295" x2="575.76" y2="298.5" stroke="#9a9a9a" stroke-width="0.8"/>
<line x1="579.71" y1="295" x2="579.71" y2="298.5" stroke="#9a9a9a" stroke-width="0.8"/>
<line x1="583.66" y1="295" x2="583.66" y2="298.5" stroke="#9a9a9a" stroke-width="0.8"/>
<line x1="587.61" y1="295" x2="587.61" y2="298.5" stroke="#9a9a9a" stroke-width="0.8"/>
<line x1="591.56" y1="295" x2="591.56" y2="298.5" stroke="#9a9a9a" stroke-width="0.8"/>
<line x1="595.51" y1="295" x2="595.51" y2="298.5" stroke="#9a9a9a" stroke-width="0.8"/>
<line x1="599.46" y1="295" x2="599.46" y2="298.5" stroke="#9a9a9a" stroke-width="0.8"/>
<line x1="603.41" y1="295" x2="603.41" y2="298.5" stroke="#9a9a9a" stroke-width="0.8"/>
<line x1="607.36" y1="295" x2="607.36" y2="298.5" stroke="#9a9a9a" stroke-width="0.8"/>
<line x1="611.31" y1="295" x2="611.31" y2="298.5" stroke="#9a9a9a" stroke-width="0.8"/>
<line x1="615.26" y1="295" x2="615.26" y2="298.5" stroke="#9a9a9a" stroke-width="0.8"/>
<line x1="619.21" y1="295" x2="619.21" y2="298.5" stroke="#9a9a9a" stroke-width="0.8"/>
<line x1="623.17" y1="295" x2="623.17" y2="298.5" stroke="#9a9a9a" stroke-width="0.8"/>
<line x1="627.12" y1="295" x2="627.12" y2="298.5" stroke="#9a9a9a" stroke-width="0.8"/>
<line x1="631.07" y1="295" x2="631.07" y2="298.5" stroke="#9a9a9a" stroke-width="0.8"/>
<line x1="635.02" y1="295" x2="635.02" y2="298.5" stroke="#9a9a9a" stroke-width="0.8"/>
<line x1="638.97" y1="295" x2="638.97" y2="298.5" stroke="#9a9a9a" stroke-width="0.8"/>
<line x1="642.92" y1="295" x2="642.92" y2="298.5" stroke="#9a9a9a" stroke-width="0.8"/>
<line x1="646.87" y1="295" x2="646.87" y2="298.5" stroke="#9a9a9a" stroke-width="0.8"/>
<line x1="650.82" y1="295" x2="650.82" y2="298.5" stroke="#9a9a9a" stroke-width="0.8"/>
<line x1="654.77" y1="295" x2="654.77" y2="298.5" stroke="#9a9a9a" stroke-width="0.8"/>
<line x1="658.72" y1="295" x2="658.72" y2="298.5" stroke="#9a9a9a" stroke-width="0.8"/>
<line x1="662.67" y1="295" x2="662.67" y2="298.5" stroke="#9a9a9a" stroke-width="0.8"/>
<line x1="666.62" y1="295" x2="666.62" y2="298.5" stroke="#9a9a9a" stroke-width="0.8"/>
<line x1="670.58" y1="295" x2="670.58" y2="298.5" stroke="#9a9a9a" stroke-width="0.8"/>
<rect x="427" y="290.94" width="2" height="4.06" fill="#121212"/>
<rect x="431" y="289.93" width="2" height="5.07" fill="#121212"/>
<rect x="435" y="290.94" width="2" height="4.06" fill="#121212"/>
<rect x="438.65" y="291.38" width="1.6" height="3.62" fill="#747474"/>
<rect x="442.6" y="289.93" width="1.6" height="5.07" fill="#747474"/>
<rect x="446.55" y="288.91" width="1.6" height="6.09" fill="#747474"/>
<rect x="450" y="288.91" width="2" height="6.09" fill="#121212"/>
<rect x="454" y="288.91" width="2" height="6.09" fill="#121212"/>
<rect x="458.41" y="289.93" width="1.6" height="5.07" fill="#747474"/>
<rect x="462.36" y="290.94" width="1.6" height="4.06" fill="#747474"/>
<rect x="466.31" y="290.94" width="1.6" height="4.06" fill="#747474"/>
<rect x="470" y="288.91" width="2" height="6.09" fill="#121212"/>
<rect x="474" y="289.93" width="2" height="5.07" fill="#121212"/>
<rect x="478" y="288.91" width="2" height="6.09" fill="#121212"/>
<rect x="482.11" y="285.87" width="1.6" height="9.13" fill="#747474"/>
<rect x="486.06" y="283.83" width="1.6" height="11.17" fill="#747474"/>
<rect x="490" y="282.82" width="2" height="12.18" fill="#121212"/>
<rect x="494" y="286.88" width="2" height="8.12" fill="#121212"/>
<rect x="498" y="286.88" width="2" height="8.12" fill="#121212"/>
<rect x="501.87" y="286.88" width="1.6" height="8.12" fill="#747474"/>
<rect x="505.82" y="286.88" width="1.6" height="8.12" fill="#747474"/>
<rect x="510" y="287.89" width="2" height="7.1" fill="#121212"/>
<rect x="514" y="287.89" width="2" height="7.1" fill="#121212"/>
<rect x="517" y="281.81" width="2" height="13.2" fill="#121212"/>
<rect x="521.62" y="231.2" width="1.6" height="63.8" fill="#747474"/>
<rect x="525.57" y="240.48" width="1.6" height="54.52" fill="#747474"/>
<rect x="529.52" y="226.12" width="1.6" height="68.88" fill="#747474"/>
<rect x="533" y="260.78" width="2" height="34.22" fill="#121212"/>
<rect x="537" y="255.85" width="2" height="39.15" fill="#121212"/>
<rect x="541.37" y="269.19" width="1.6" height="25.81" fill="#747474"/>
<rect x="545.32" y="273.25" width="1.6" height="21.75" fill="#747474"/>
<rect x="549.28" y="255.85" width="1.6" height="39.15" fill="#747474"/>
<rect x="553" y="258.89" width="2" height="36.11" fill="#121212"/>
<rect x="557" y="254.84" width="2" height="40.16" fill="#121212"/>
<rect x="561" y="253.82" width="2" height="41.18" fill="#121212"/>
<rect x="565.08" y="266" width="1.6" height="29" fill="#747474"/>
<rect x="569.03" y="257.88" width="1.6" height="37.12" fill="#747474"/>
<rect x="573" y="273.25" width="2" height="21.75" fill="#121212"/>
<rect x="577" y="273.25" width="2" height="21.75" fill="#121212"/>
<rect x="581" y="265.13" width="2" height="29.87" fill="#121212"/>
<rect x="584.83" y="267.16" width="1.6" height="27.84" fill="#747474"/>
<rect x="588.78" y="274.26" width="1.6" height="20.73" fill="#747474"/>
<rect x="593" y="266" width="2" height="29" fill="#121212"/>
<rect x="596" y="270.2" width="2" height="24.79" fill="#121212"/>
<rect x="600" y="252.81" width="2" height="42.2" fill="#121212"/>
<rect x="604.59" y="215.54" width="1.6" height="79.46" fill="#747474"/>
<rect x="608.54" y="230.19" width="1.6" height="64.81" fill="#747474"/>
<rect x="612.49" y="239.03" width="1.6" height="55.97" fill="#747474"/>
<rect x="616" y="236.56" width="2" height="58.44" fill="#121212"/>
<rect x="620" y="238.01" width="2" height="56.98" fill="#121212"/>
<rect x="624.34" y="245.56" width="1.6" height="49.45" fill="#747474"/>
<rect x="628.29" y="247.59" width="1.6" height="47.41" fill="#747474"/>
<rect x="632.24" y="238.45" width="1.6" height="56.55" fill="#747474"/>
<rect x="636" y="248.75" width="2" height="46.26" fill="#121212"/>
<rect x="640" y="259.91" width="2" height="35.09" fill="#121212"/>
<rect x="644" y="259.91" width="2" height="35.09" fill="#121212"/>
<rect x="648.05" y="264.4" width="1.6" height="30.59" fill="#747474"/>
<rect x="652" y="259.91" width="1.6" height="35.09" fill="#747474"/>
<rect x="656" y="264.4" width="2" height="30.59" fill="#121212"/>
<rect x="660" y="269.19" width="2" height="25.81" fill="#121212"/>
<rect x="664" y="270.2" width="2" height="24.79" fill="#121212"/>
<rect x="667.8" y="273.25" width="1.6" height="21.75" fill="#747474"/>
<line x1="424.8" y1="403.1" x2="669" y2="403.1" stroke="#a8a8a8" stroke-width="1.0"/>
<line x1="424.8" y1="382.9" x2="669" y2="382.9" stroke="#a8a8a8" stroke-width="1.0"/>
<line x1="424.8" y1="362.7" x2="669" y2="362.7" stroke="#a8a8a8" stroke-width="1.0"/>
<line x1="424.8" y1="342.5" x2="669" y2="342.5" stroke="#a8a8a8" stroke-width="1.0"/>
<line x1="424.8" y1="423.3" x2="669" y2="423.3" stroke="#9a9a9a" stroke-width="1.0"/>
<line x1="428.4" y1="342" x2="428.4" y2="423.8" stroke="#9a9a9a" stroke-width="1.0"/>
<line x1="428.76" y1="423.3" x2="428.76" y2="426.8" stroke="#9a9a9a" stroke-width="0.8"/>
<line x1="432.64" y1="423.3" x2="432.64" y2="426.8" stroke="#9a9a9a" stroke-width="0.8"/>
<line x1="436.52" y1="423.3" x2="436.52" y2="426.8" stroke="#9a9a9a" stroke-width="0.8"/>
<line x1="440.4" y1="423.3" x2="440.4" y2="426.8" stroke="#9a9a9a" stroke-width="0.8"/>
<line x1="444.28" y1="423.3" x2="444.28" y2="426.8" stroke="#9a9a9a" stroke-width="0.8"/>
<line x1="448.15" y1="423.3" x2="448.15" y2="426.8" stroke="#9a9a9a" stroke-width="0.8"/>
<line x1="452.03" y1="423.3" x2="452.03" y2="426.8" stroke="#9a9a9a" stroke-width="0.8"/>
<line x1="455.91" y1="423.3" x2="455.91" y2="426.8" stroke="#9a9a9a" stroke-width="0.8"/>
<line x1="459.79" y1="423.3" x2="459.79" y2="426.8" stroke="#9a9a9a" stroke-width="0.8"/>
<line x1="463.67" y1="423.3" x2="463.67" y2="426.8" stroke="#9a9a9a" stroke-width="0.8"/>
<line x1="467.55" y1="423.3" x2="467.55" y2="426.8" stroke="#9a9a9a" stroke-width="0.8"/>
<line x1="471.43" y1="423.3" x2="471.43" y2="426.8" stroke="#9a9a9a" stroke-width="0.8"/>
<line x1="475.3" y1="423.3" x2="475.3" y2="426.8" stroke="#9a9a9a" stroke-width="0.8"/>
<line x1="479.18" y1="423.3" x2="479.18" y2="426.8" stroke="#9a9a9a" stroke-width="0.8"/>
<line x1="483.06" y1="423.3" x2="483.06" y2="426.8" stroke="#9a9a9a" stroke-width="0.8"/>
<line x1="486.94" y1="423.3" x2="486.94" y2="426.8" stroke="#9a9a9a" stroke-width="0.8"/>
<line x1="490.82" y1="423.3" x2="490.82" y2="426.8" stroke="#9a9a9a" stroke-width="0.8"/>
<line x1="494.7" y1="423.3" x2="494.7" y2="426.8" stroke="#9a9a9a" stroke-width="0.8"/>
<line x1="498.58" y1="423.3" x2="498.58" y2="426.8" stroke="#9a9a9a" stroke-width="0.8"/>
<line x1="502.46" y1="423.3" x2="502.46" y2="426.8" stroke="#9a9a9a" stroke-width="0.8"/>
<line x1="506.33" y1="423.3" x2="506.33" y2="426.8" stroke="#9a9a9a" stroke-width="0.8"/>
<line x1="510.21" y1="423.3" x2="510.21" y2="426.8" stroke="#9a9a9a" stroke-width="0.8"/>
<line x1="514.09" y1="423.3" x2="514.09" y2="426.8" stroke="#9a9a9a" stroke-width="0.8"/>
<line x1="517.97" y1="423.3" x2="517.97" y2="426.8" stroke="#9a9a9a" stroke-width="0.8"/>
<line x1="521.85" y1="423.3" x2="521.85" y2="426.8" stroke="#9a9a9a" stroke-width="0.8"/>
<line x1="525.73" y1="423.3" x2="525.73" y2="426.8" stroke="#9a9a9a" stroke-width="0.8"/>
<line x1="529.61" y1="423.3" x2="529.61" y2="426.8" stroke="#9a9a9a" stroke-width="0.8"/>
<line x1="533.49" y1="423.3" x2="533.49" y2="426.8" stroke="#9a9a9a" stroke-width="0.8"/>
<line x1="537.36" y1="423.3" x2="537.36" y2="426.8" stroke="#9a9a9a" stroke-width="0.8"/>
<line x1="541.24" y1="423.3" x2="541.24" y2="426.8" stroke="#9a9a9a" stroke-width="0.8"/>
<line x1="545.12" y1="423.3" x2="545.12" y2="426.8" stroke="#9a9a9a" stroke-width="0.8"/>
<line x1="549" y1="423.3" x2="549" y2="426.8" stroke="#9a9a9a" stroke-width="0.8"/>
<line x1="552.88" y1="423.3" x2="552.88" y2="426.8" stroke="#9a9a9a" stroke-width="0.8"/>
<line x1="556.76" y1="423.3" x2="556.76" y2="426.8" stroke="#9a9a9a" stroke-width="0.8"/>
<line x1="560.64" y1="423.3" x2="560.64" y2="426.8" stroke="#9a9a9a" stroke-width="0.8"/>
<line x1="564.51" y1="423.3" x2="564.51" y2="426.8" stroke="#9a9a9a" stroke-width="0.8"/>
<line x1="568.39" y1="423.3" x2="568.39" y2="426.8" stroke="#9a9a9a" stroke-width="0.8"/>
<line x1="572.27" y1="423.3" x2="572.27" y2="426.8" stroke="#9a9a9a" stroke-width="0.8"/>
<line x1="576.15" y1="423.3" x2="576.15" y2="426.8" stroke="#9a9a9a" stroke-width="0.8"/>
<line x1="580.03" y1="423.3" x2="580.03" y2="426.8" stroke="#9a9a9a" stroke-width="0.8"/>
<line x1="583.91" y1="423.3" x2="583.91" y2="426.8" stroke="#9a9a9a" stroke-width="0.8"/>
<line x1="587.79" y1="423.3" x2="587.79" y2="426.8" stroke="#9a9a9a" stroke-width="0.8"/>
<line x1="591.67" y1="423.3" x2="591.67" y2="426.8" stroke="#9a9a9a" stroke-width="0.8"/>
<line x1="595.54" y1="423.3" x2="595.54" y2="426.8" stroke="#9a9a9a" stroke-width="0.8"/>
<line x1="599.42" y1="423.3" x2="599.42" y2="426.8" stroke="#9a9a9a" stroke-width="0.8"/>
<line x1="603.3" y1="423.3" x2="603.3" y2="426.8" stroke="#9a9a9a" stroke-width="0.8"/>
<line x1="607.18" y1="423.3" x2="607.18" y2="426.8" stroke="#9a9a9a" stroke-width="0.8"/>
<line x1="611.06" y1="423.3" x2="611.06" y2="426.8" stroke="#9a9a9a" stroke-width="0.8"/>
<line x1="614.94" y1="423.3" x2="614.94" y2="426.8" stroke="#9a9a9a" stroke-width="0.8"/>
<line x1="618.82" y1="423.3" x2="618.82" y2="426.8" stroke="#9a9a9a" stroke-width="0.8"/>
<line x1="622.7" y1="423.3" x2="622.7" y2="426.8" stroke="#9a9a9a" stroke-width="0.8"/>
<line x1="626.57" y1="423.3" x2="626.57" y2="426.8" stroke="#9a9a9a" stroke-width="0.8"/>
<line x1="630.45" y1="423.3" x2="630.45" y2="426.8" stroke="#9a9a9a" stroke-width="0.8"/>
<line x1="634.33" y1="423.3" x2="634.33" y2="426.8" stroke="#9a9a9a" stroke-width="0.8"/>
<line x1="638.21" y1="423.3" x2="638.21" y2="426.8" stroke="#9a9a9a" stroke-width="0.8"/>
<line x1="642.09" y1="423.3" x2="642.09" y2="426.8" stroke="#9a9a9a" stroke-width="0.8"/>
<line x1="645.97" y1="423.3" x2="645.97" y2="426.8" stroke="#9a9a9a" stroke-width="0.8"/>
<line x1="649.85" y1="423.3" x2="649.85" y2="426.8" stroke="#9a9a9a" stroke-width="0.8"/>
<line x1="653.72" y1="423.3" x2="653.72" y2="426.8" stroke="#9a9a9a" stroke-width="0.8"/>
<line x1="657.6" y1="423.3" x2="657.6" y2="426.8" stroke="#9a9a9a" stroke-width="0.8"/>
<line x1="661.48" y1="423.3" x2="661.48" y2="426.8" stroke="#9a9a9a" stroke-width="0.8"/>
<line x1="665.36" y1="423.3" x2="665.36" y2="426.8" stroke="#9a9a9a" stroke-width="0.8"/>
<line x1="669.24" y1="423.3" x2="669.24" y2="426.8" stroke="#9a9a9a" stroke-width="0.8"/>
<rect x="430" y="394.72" width="2" height="28.58" fill="#121212"/>
<rect x="434" y="398.96" width="2" height="24.34" fill="#121212"/>
<rect x="437.66" y="385.53" width="1.6" height="37.77" fill="#747474"/>
<rect x="441.54" y="389.16" width="1.6" height="34.14" fill="#747474"/>
<rect x="445" y="390.17" width="2" height="33.13" fill="#121212"/>
<rect x="449" y="394.72" width="2" height="28.58" fill="#121212"/>
<rect x="453.17" y="393.61" width="1.6" height="29.69" fill="#747474"/>
<rect x="457" y="394.72" width="2" height="28.58" fill="#121212"/>
<rect x="461" y="392.6" width="2" height="30.7" fill="#121212"/>
<rect x="464.81" y="395.93" width="1.6" height="27.37" fill="#747474"/>
<rect x="468.69" y="388.56" width="1.6" height="34.74" fill="#747474"/>
<rect x="472" y="385.22" width="2" height="38.08" fill="#121212"/>
<rect x="476" y="387.55" width="2" height="35.75" fill="#121212"/>
<rect x="480.32" y="390.58" width="1.6" height="32.72" fill="#747474"/>
<rect x="484.2" y="390.58" width="1.6" height="32.72" fill="#747474"/>
<rect x="488" y="392.6" width="2" height="30.7" fill="#121212"/>
<rect x="492" y="389.57" width="2" height="33.73" fill="#121212"/>
<rect x="495.84" y="388.56" width="1.6" height="34.74" fill="#747474"/>
<rect x="499.72" y="388.56" width="1.6" height="34.74" fill="#747474"/>
<rect x="503" y="384.01" width="2" height="39.29" fill="#121212"/>
<rect x="507" y="389.57" width="2" height="33.73" fill="#121212"/>
<rect x="511.35" y="388.56" width="1.6" height="34.74" fill="#747474"/>
<rect x="515.23" y="386.54" width="1.6" height="36.76" fill="#747474"/>
<rect x="519" y="384.01" width="2" height="39.29" fill="#121212"/>
<rect x="523" y="384.01" width="2" height="39.29" fill="#121212"/>
<rect x="526.87" y="381.38" width="1.6" height="41.91" fill="#747474"/>
<rect x="530.75" y="371.18" width="1.6" height="52.12" fill="#747474"/>
<rect x="534" y="382.4" width="2" height="40.9" fill="#121212"/>
<rect x="538" y="386.54" width="2" height="36.76" fill="#121212"/>
<rect x="542.68" y="361.59" width="1" height="61.71" fill="#222"/>
<rect x="546.26" y="377.95" width="1.6" height="45.35" fill="#747474"/>
<rect x="550" y="383" width="2" height="40.3" fill="#121212"/>
<rect x="554" y="376.84" width="2" height="46.46" fill="#121212"/>
<rect x="557.9" y="379.97" width="1.6" height="43.33" fill="#747474"/>
<rect x="561.78" y="376.84" width="1.6" height="46.46" fill="#747474"/>
<rect x="565" y="374.82" width="2" height="48.48" fill="#121212"/>
<rect x="569" y="377.95" width="2" height="45.35" fill="#121212"/>
<rect x="573.41" y="378.96" width="1.6" height="44.34" fill="#747474"/>
<rect x="577.29" y="375.83" width="1.6" height="47.47" fill="#747474"/>
<rect x="581" y="377.95" width="2" height="45.35" fill="#121212"/>
<rect x="585" y="373.81" width="2" height="49.49" fill="#121212"/>
<rect x="588.93" y="373.81" width="1.6" height="49.49" fill="#747474"/>
<rect x="593" y="370.78" width="2" height="52.52" fill="#121212"/>
<rect x="596" y="369.77" width="2" height="53.53" fill="#121212"/>
<rect x="600.56" y="376.84" width="1.6" height="46.46" fill="#747474"/>
<rect x="604.44" y="388.56" width="1.6" height="34.74" fill="#747474"/>
<rect x="608" y="393.61" width="2" height="29.69" fill="#121212"/>
<rect x="612" y="391.59" width="2" height="31.71" fill="#121212"/>
<rect x="616.08" y="394.72" width="1.6" height="28.58" fill="#747474"/>
<rect x="619.96" y="391.59" width="1.6" height="31.71" fill="#747474"/>
<rect x="624" y="396.74" width="2" height="26.56" fill="#121212"/>
<rect x="628" y="398.76" width="2" height="24.54" fill="#121212"/>
<rect x="631.59" y="393.61" width="1.6" height="29.69" fill="#747474"/>
<rect x="635.47" y="404.51" width="1.6" height="18.79" fill="#747474"/>
<rect x="639" y="403.1" width="2" height="20.2" fill="#121212"/>
<rect x="643" y="405.93" width="2" height="17.37" fill="#121212"/>
<rect x="647.11" y="400.78" width="1.6" height="22.52" fill="#747474"/>
<rect x="650.99" y="399.97" width="1.6" height="23.33" fill="#747474"/>
<rect x="655" y="406.94" width="2" height="16.36" fill="#121212"/>
<rect x="659" y="404.11" width="2" height="19.19" fill="#121212"/>
<rect x="662.62" y="406.53" width="1.6" height="16.77" fill="#747474"/>
<rect x="666.5" y="409.97" width="1.6" height="13.33" fill="#747474"/>
<line x1="71.5" y1="610.1" x2="304.2" y2="610.1" stroke="#d8d8d8" stroke-width="1.0"/>
<line x1="71.5" y1="597.9" x2="304.2" y2="597.9" stroke="#d8d8d8" stroke-width="1.0"/>
<line x1="71.5" y1="585.7" x2="304.2" y2="585.7" stroke="#d8d8d8" stroke-width="1.0"/>
<line x1="71.5" y1="573.5" x2="304.2" y2="573.5" stroke="#d8d8d8" stroke-width="1.0"/>
<line x1="71.5" y1="561.3" x2="304.2" y2="561.3" stroke="#d8d8d8" stroke-width="1.0"/>
<line x1="71.5" y1="549.1" x2="304.2" y2="549.1" stroke="#d8d8d8" stroke-width="1.0"/>
<line x1="71.5" y1="536.9" x2="304.2" y2="536.9" stroke="#d8d8d8" stroke-width="1.0"/>
<rect x="78.93" y="583.26" width="1.84" height="39.04" fill="#9c9c9c" stroke="#3a3a3a" stroke-width="0.5"/>
<rect x="81.82" y="578.14" width="1.84" height="44.16" fill="#9c9c9c" stroke="#3a3a3a" stroke-width="0.5"/>
<rect x="84.72" y="572.77" width="1.84" height="49.53" fill="#9c9c9c" stroke="#3a3a3a" stroke-width="0.5"/>
<rect x="87.61" y="575.21" width="1.84" height="47.09" fill="#9c9c9c" stroke="#3a3a3a" stroke-width="0.5"/>
<rect x="90.5" y="572.77" width="1.84" height="49.53" fill="#9c9c9c" stroke="#3a3a3a" stroke-width="0.5"/>
<rect x="93.4" y="570.82" width="1.84" height="51.48" fill="#9c9c9c" stroke="#3a3a3a" stroke-width="0.5"/>
<rect x="96.29" y="572.04" width="1.84" height="50.26" fill="#9c9c9c" stroke="#3a3a3a" stroke-width="0.5"/>
<rect x="99.19" y="580.82" width="1.84" height="41.48" fill="#9c9c9c" stroke="#3a3a3a" stroke-width="0.5"/>
<rect x="102.08" y="583.26" width="1.84" height="39.04" fill="#9c9c9c" stroke="#3a3a3a" stroke-width="0.5"/>
<rect x="104.97" y="578.87" width="1.84" height="43.43" fill="#9c9c9c" stroke="#3a3a3a" stroke-width="0.5"/>
<rect x="107.87" y="568.38" width="1.84" height="53.92" fill="#9c9c9c" stroke="#3a3a3a" stroke-width="0.5"/>
<rect x="110.76" y="568.38" width="1.84" height="53.92" fill="#9c9c9c" stroke="#3a3a3a" stroke-width="0.5"/>
<rect x="113.66" y="566.18" width="1.84" height="56.12" fill="#9c9c9c" stroke="#3a3a3a" stroke-width="0.5"/>
<rect x="116.55" y="572.04" width="1.84" height="50.26" fill="#9c9c9c" stroke="#3a3a3a" stroke-width="0.5"/>
<rect x="119.44" y="579.36" width="1.84" height="42.94" fill="#9c9c9c" stroke="#3a3a3a" stroke-width="0.5"/>
<rect x="122.34" y="577.65" width="1.84" height="44.65" fill="#9c9c9c" stroke="#3a3a3a" stroke-width="0.5"/>
<rect x="125.23" y="584.97" width="1.84" height="37.33" fill="#9c9c9c" stroke="#3a3a3a" stroke-width="0.5"/>
<rect x="128.13" y="580.33" width="1.84" height="41.97" fill="#9c9c9c" stroke="#3a3a3a" stroke-width="0.5"/>
<rect x="131.02" y="569.6" width="1.84" height="52.7" fill="#9c9c9c" stroke="#3a3a3a" stroke-width="0.5"/>
<rect x="133.91" y="571.3" width="1.84" height="51" fill="#9c9c9c" stroke="#3a3a3a" stroke-width="0.5"/>
<rect x="136.81" y="568.38" width="1.84" height="53.92" fill="#9c9c9c" stroke="#3a3a3a" stroke-width="0.5"/>
<rect x="139.7" y="569.6" width="1.84" height="52.7" fill="#9c9c9c" stroke="#3a3a3a" stroke-width="0.5"/>
<rect x="142.6" y="578.14" width="1.84" height="44.16" fill="#9c9c9c" stroke="#3a3a3a" stroke-width="0.5"/>
<rect x="145.49" y="580.33" width="1.84" height="41.97" fill="#9c9c9c" stroke="#3a3a3a" stroke-width="0.5"/>
<rect x="148.38" y="579.36" width="1.84" height="42.94" fill="#9c9c9c" stroke="#3a3a3a" stroke-width="0.5"/>
<rect x="151.28" y="565.2" width="1.84" height="57.1" fill="#9c9c9c" stroke="#3a3a3a" stroke-width="0.5"/>
<rect x="154.17" y="544.71" width="1.84" height="77.59" fill="#9c9c9c" stroke="#3a3a3a" stroke-width="0.5"/>
<rect x="157.07" y="563.98" width="1.84" height="58.32" fill="#9c9c9c" stroke="#3a3a3a" stroke-width="0.5"/>
<rect x="159.96" y="565.2" width="1.84" height="57.1" fill="#9c9c9c" stroke="#3a3a3a" stroke-width="0.5"/>
<rect x="162.85" y="573.26" width="1.84" height="49.04" fill="#9c9c9c" stroke="#3a3a3a" stroke-width="0.5"/>
<rect x="165.75" y="573.26" width="1.84" height="49.04" fill="#9c9c9c" stroke="#3a3a3a" stroke-width="0.5"/>
<rect x="168.64" y="573.99" width="1.84" height="48.31" fill="#9c9c9c" stroke="#3a3a3a" stroke-width="0.5"/>
<rect x="171.54" y="563.98" width="1.84" height="58.32" fill="#9c9c9c" stroke="#3a3a3a" stroke-width="0.5"/>
<rect x="174.43" y="557.88" width="1.84" height="64.42" fill="#9c9c9c" stroke="#3a3a3a" stroke-width="0.5"/>
<rect x="177.32" y="558.37" width="1.84" height="63.93" fill="#9c9c9c" stroke="#3a3a3a" stroke-width="0.5"/>
<rect x="180.22" y="559.59" width="1.84" height="62.71" fill="#9c9c9c" stroke="#3a3a3a" stroke-width="0.5"/>
<rect x="183.11" y="550.81" width="1.84" height="71.49" fill="#9c9c9c" stroke="#3a3a3a" stroke-width="0.5"/>
<rect x="186.01" y="569.6" width="1.84" height="52.7" fill="#9c9c9c" stroke="#3a3a3a" stroke-width="0.5"/>
<rect x="188.9" y="575.94" width="1.84" height="46.36" fill="#9c9c9c" stroke="#3a3a3a" stroke-width="0.5"/>
<rect x="191.79" y="575.7" width="1.84" height="46.6" fill="#9c9c9c" stroke="#3a3a3a" stroke-width="0.5"/>
<rect x="194.69" y="578.87" width="1.84" height="43.43" fill="#9c9c9c" stroke="#3a3a3a" stroke-width="0.5"/>
<rect x="197.58" y="575.94" width="1.84" height="46.36" fill="#9c9c9c" stroke="#3a3a3a" stroke-width="0.5"/>
<rect x="200.48" y="567.4" width="1.84" height="54.9" fill="#9c9c9c" stroke="#3a3a3a" stroke-width="0.5"/>
<rect x="203.37" y="564.47" width="1.84" height="57.83" fill="#9c9c9c" stroke="#3a3a3a" stroke-width="0.5"/>
<rect x="206.26" y="573.01" width="1.84" height="49.29" fill="#9c9c9c" stroke="#3a3a3a" stroke-width="0.5"/>
<rect x="209.16" y="574.72" width="1.84" height="47.58" fill="#9c9c9c" stroke="#3a3a3a" stroke-width="0.5"/>
<rect x="212.05" y="579.6" width="1.84" height="42.7" fill="#9c9c9c" stroke="#3a3a3a" stroke-width="0.5"/>
<rect x="214.95" y="580.58" width="1.84" height="41.72" fill="#9c9c9c" stroke="#3a3a3a" stroke-width="0.5"/>
<rect x="217.84" y="583.75" width="1.84" height="38.55" fill="#9c9c9c" stroke="#3a3a3a" stroke-width="0.5"/>
<rect x="220.73" y="583.75" width="1.84" height="38.55" fill="#9c9c9c" stroke="#3a3a3a" stroke-width="0.5"/>
<rect x="223.63" y="573.74" width="1.84" height="48.56" fill="#9c9c9c" stroke="#3a3a3a" stroke-width="0.5"/>
<rect x="226.52" y="561.06" width="1.84" height="61.24" fill="#9c9c9c" stroke="#3a3a3a" stroke-width="0.5"/>
<rect x="229.42" y="568.13" width="1.84" height="54.17" fill="#9c9c9c" stroke="#3a3a3a" stroke-width="0.5"/>
<rect x="232.31" y="571.06" width="1.84" height="51.24" fill="#9c9c9c" stroke="#3a3a3a" stroke-width="0.5"/>
<rect x="235.2" y="584.72" width="1.84" height="37.58" fill="#9c9c9c" stroke="#3a3a3a" stroke-width="0.5"/>
<rect x="238.1" y="576.92" width="1.84" height="45.38" fill="#9c9c9c" stroke="#3a3a3a" stroke-width="0.5"/>
<rect x="240.99" y="573.74" width="1.84" height="48.56" fill="#9c9c9c" stroke="#3a3a3a" stroke-width="0.5"/>
<rect x="243.89" y="576.92" width="1.84" height="45.38" fill="#9c9c9c" stroke="#3a3a3a" stroke-width="0.5"/>
<rect x="246.78" y="569.11" width="1.84" height="53.19" fill="#9c9c9c" stroke="#3a3a3a" stroke-width="0.5"/>
<rect x="249.67" y="557.4" width="1.84" height="64.9" fill="#9c9c9c" stroke="#3a3a3a" stroke-width="0.5"/>
<rect x="252.57" y="557.88" width="1.84" height="64.42" fill="#9c9c9c" stroke="#3a3a3a" stroke-width="0.5"/>
<rect x="255.46" y="563.74" width="1.84" height="58.56" fill="#9c9c9c" stroke="#3a3a3a" stroke-width="0.5"/>
<rect x="258.36" y="580.09" width="1.84" height="42.21" fill="#9c9c9c" stroke="#3a3a3a" stroke-width="0.5"/>
<rect x="261.25" y="561.06" width="1.84" height="61.24" fill="#9c9c9c" stroke="#3a3a3a" stroke-width="0.5"/>
<rect x="264.14" y="568.86" width="1.84" height="53.44" fill="#9c9c9c" stroke="#3a3a3a" stroke-width="0.5"/>
<rect x="267.04" y="553.98" width="1.84" height="68.32" fill="#9c9c9c" stroke="#3a3a3a" stroke-width="0.5"/>
<rect x="269.93" y="545.93" width="1.84" height="76.37" fill="#9c9c9c" stroke="#3a3a3a" stroke-width="0.5"/>
<rect x="272.83" y="544.95" width="1.84" height="77.35" fill="#9c9c9c" stroke="#3a3a3a" stroke-width="0.5"/>
<rect x="275.72" y="549.34" width="1.84" height="72.96" fill="#9c9c9c" stroke="#3a3a3a" stroke-width="0.5"/>
<rect x="278.61" y="547.88" width="1.84" height="74.42" fill="#9c9c9c" stroke="#3a3a3a" stroke-width="0.5"/>
<rect x="281.51" y="563.98" width="1.84" height="58.32" fill="#9c9c9c" stroke="#3a3a3a" stroke-width="0.5"/>
<rect x="284.4" y="571.79" width="1.84" height="50.51" fill="#9c9c9c" stroke="#3a3a3a" stroke-width="0.5"/>
<rect x="287.3" y="578.38" width="1.84" height="43.92" fill="#9c9c9c" stroke="#3a3a3a" stroke-width="0.5"/>
<rect x="290.19" y="568.38" width="1.84" height="53.92" fill="#9c9c9c" stroke="#3a3a3a" stroke-width="0.5"/>
<rect x="293.08" y="563.98" width="1.84" height="58.32" fill="#9c9c9c" stroke="#3a3a3a" stroke-width="0.5"/>
<rect x="295.98" y="567.64" width="1.84" height="54.66" fill="#9c9c9c" stroke="#3a3a3a" stroke-width="0.5"/>
<rect x="298.87" y="573.74" width="1.84" height="48.56" fill="#9c9c9c" stroke="#3a3a3a" stroke-width="0.5"/>
<rect x="301.77" y="560.08" width="1.84" height="62.22" fill="#9c9c9c" stroke="#3a3a3a" stroke-width="0.5"/>
<line x1="76.8" y1="622.8" x2="316.9" y2="622.8" stroke="#222" stroke-width="1.3"/>
<line x1="77.3" y1="529.9" x2="77.3" y2="623.3" stroke="#444" stroke-width="1.3"/>
<line x1="71" y1="738.3" x2="309" y2="738.3" stroke="#d8d8d8" stroke-width="1.0"/>
<line x1="71" y1="704.3" x2="309" y2="704.3" stroke="#d8d8d8" stroke-width="1.0"/>
<line x1="71" y1="670.3" x2="309" y2="670.3" stroke="#d8d8d8" stroke-width="1.0"/>
<rect x="79.53" y="769.04" width="1.94" height="3.26" fill="#9c9c9c" stroke="#3a3a3a" stroke-width="0.5"/>
<rect x="82.52" y="768.63" width="1.94" height="3.67" fill="#9c9c9c" stroke="#3a3a3a" stroke-width="0.5"/>
<rect x="85.51" y="760.94" width="1.94" height="11.36" fill="#9c9c9c" stroke="#3a3a3a" stroke-width="0.5"/>
<rect x="88.5" y="756.93" width="1.94" height="15.37" fill="#9c9c9c" stroke="#3a3a3a" stroke-width="0.5"/>
<rect x="91.49" y="761.35" width="1.94" height="10.95" fill="#9c9c9c" stroke="#3a3a3a" stroke-width="0.5"/>
<rect x="94.48" y="765.7" width="1.94" height="6.6" fill="#9c9c9c" stroke="#3a3a3a" stroke-width="0.5"/>
<rect x="97.47" y="767.2" width="1.94" height="5.1" fill="#9c9c9c" stroke="#3a3a3a" stroke-width="0.5"/>
<rect x="100.47" y="763.19" width="1.94" height="9.11" fill="#9c9c9c" stroke="#3a3a3a" stroke-width="0.5"/>
<rect x="103.46" y="759.52" width="1.94" height="12.78" fill="#9c9c9c" stroke="#3a3a3a" stroke-width="0.5"/>
<rect x="106.45" y="762.44" width="1.94" height="9.86" fill="#9c9c9c" stroke="#3a3a3a" stroke-width="0.5"/>
<rect x="109.44" y="763.87" width="1.94" height="8.43" fill="#9c9c9c" stroke="#3a3a3a" stroke-width="0.5"/>
<rect x="112.43" y="760.26" width="1.94" height="12.04" fill="#9c9c9c" stroke="#3a3a3a" stroke-width="0.5"/>
<rect x="115.42" y="752.17" width="1.94" height="20.13" fill="#9c9c9c" stroke="#3a3a3a" stroke-width="0.5"/>
<rect x="118.41" y="761.69" width="1.94" height="10.61" fill="#9c9c9c" stroke="#3a3a3a" stroke-width="0.5"/>
<rect x="121.4" y="764.41" width="1.94" height="7.89" fill="#9c9c9c" stroke="#3a3a3a" stroke-width="0.5"/>
<rect x="124.39" y="762.44" width="1.94" height="9.86" fill="#9c9c9c" stroke="#3a3a3a" stroke-width="0.5"/>
<rect x="127.38" y="754.35" width="1.94" height="17.95" fill="#9c9c9c" stroke="#3a3a3a" stroke-width="0.5"/>
<rect x="130.37" y="754.35" width="1.94" height="17.95" fill="#9c9c9c" stroke="#3a3a3a" stroke-width="0.5"/>
<rect x="133.36" y="759.86" width="1.94" height="12.44" fill="#9c9c9c" stroke="#3a3a3a" stroke-width="0.5"/>
<rect x="136.35" y="761.83" width="1.94" height="10.47" fill="#9c9c9c" stroke="#3a3a3a" stroke-width="0.5"/>
<rect x="139.35" y="755.64" width="1.94" height="16.66" fill="#9c9c9c" stroke="#3a3a3a" stroke-width="0.5"/>
<rect x="142.34" y="757.2" width="1.94" height="15.1" fill="#9c9c9c" stroke="#3a3a3a" stroke-width="0.5"/>
<rect x="145.33" y="741.43" width="1.94" height="30.87" fill="#9c9c9c" stroke="#3a3a3a" stroke-width="0.5"/>
<rect x="148.32" y="731.23" width="1.94" height="41.07" fill="#9c9c9c" stroke="#3a3a3a" stroke-width="0.5"/>
<rect x="151.31" y="713.21" width="1.94" height="59.09" fill="#9c9c9c" stroke="#3a3a3a" stroke-width="0.5"/>
<rect x="154.3" y="725.31" width="1.94" height="46.99" fill="#9c9c9c" stroke="#3a3a3a" stroke-width="0.5"/>
<rect x="157.29" y="728.3" width="1.94" height="44" fill="#9c9c9c" stroke="#3a3a3a" stroke-width="0.5"/>
<rect x="160.28" y="732.25" width="1.94" height="40.05" fill="#9c9c9c" stroke="#3a3a3a" stroke-width="0.5"/>
<rect x="163.27" y="722.8" width="1.94" height="49.5" fill="#9c9c9c" stroke="#3a3a3a" stroke-width="0.5"/>
<rect x="166.26" y="727.69" width="1.94" height="44.61" fill="#9c9c9c" stroke="#3a3a3a" stroke-width="0.5"/>
<rect x="169.25" y="730.68" width="1.94" height="41.62" fill="#9c9c9c" stroke="#3a3a3a" stroke-width="0.5"/>
<rect x="172.24" y="732.93" width="1.94" height="39.37" fill="#9c9c9c" stroke="#3a3a3a" stroke-width="0.5"/>
<rect x="175.23" y="717.42" width="1.94" height="54.88" fill="#9c9c9c" stroke="#3a3a3a" stroke-width="0.5"/>
<rect x="178.23" y="722.8" width="1.94" height="49.5" fill="#9c9c9c" stroke="#3a3a3a" stroke-width="0.5"/>
<rect x="181.22" y="728.03" width="1.94" height="44.27" fill="#9c9c9c" stroke="#3a3a3a" stroke-width="0.5"/>
<rect x="184.21" y="719.4" width="1.94" height="52.9" fill="#9c9c9c" stroke="#3a3a3a" stroke-width="0.5"/>
<rect x="187.2" y="716.54" width="1.94" height="55.76" fill="#9c9c9c" stroke="#3a3a3a" stroke-width="0.5"/>
<rect x="190.19" y="725.72" width="1.94" height="46.58" fill="#9c9c9c" stroke="#3a3a3a" stroke-width="0.5"/>
<rect x="193.18" y="731.64" width="1.94" height="40.66" fill="#9c9c9c" stroke="#3a3a3a" stroke-width="0.5"/>
<rect x="196.17" y="733.95" width="1.94" height="38.35" fill="#9c9c9c" stroke="#3a3a3a" stroke-width="0.5"/>
<rect x="199.16" y="719.8" width="1.94" height="52.5" fill="#9c9c9c" stroke="#3a3a3a" stroke-width="0.5"/>
<rect x="202.15" y="721.1" width="1.94" height="51.2" fill="#9c9c9c" stroke="#3a3a3a" stroke-width="0.5"/>
<rect x="205.14" y="727.01" width="1.94" height="45.29" fill="#9c9c9c" stroke="#3a3a3a" stroke-width="0.5"/>
<rect x="208.13" y="724.36" width="1.94" height="47.94" fill="#9c9c9c" stroke="#3a3a3a" stroke-width="0.5"/>
<rect x="211.12" y="707.97" width="1.94" height="64.33" fill="#9c9c9c" stroke="#3a3a3a" stroke-width="0.5"/>
<rect x="214.12" y="717.83" width="1.94" height="54.47" fill="#9c9c9c" stroke="#3a3a3a" stroke-width="0.5"/>
<rect x="217.11" y="724.36" width="1.94" height="47.94" fill="#9c9c9c" stroke="#3a3a3a" stroke-width="0.5"/>
<rect x="220.1" y="725.31" width="1.94" height="46.99" fill="#9c9c9c" stroke="#3a3a3a" stroke-width="0.5"/>
<rect x="223.09" y="718.85" width="1.94" height="53.45" fill="#9c9c9c" stroke="#3a3a3a" stroke-width="0.5"/>
<rect x="226.08" y="714.57" width="1.94" height="57.73" fill="#9c9c9c" stroke="#3a3a3a" stroke-width="0.5"/>
<rect x="229.07" y="717.42" width="1.94" height="54.88" fill="#9c9c9c" stroke="#3a3a3a" stroke-width="0.5"/>
<rect x="232.06" y="730.96" width="1.94" height="41.34" fill="#9c9c9c" stroke="#3a3a3a" stroke-width="0.5"/>
<rect x="235.05" y="723.75" width="1.94" height="48.55" fill="#9c9c9c" stroke="#3a3a3a" stroke-width="0.5"/>
<rect x="238.04" y="704.44" width="1.94" height="67.86" fill="#9c9c9c" stroke="#3a3a3a" stroke-width="0.5"/>
<rect x="241.03" y="723.34" width="1.94" height="48.96" fill="#9c9c9c" stroke="#3a3a3a" stroke-width="0.5"/>
<rect x="244.02" y="733.2" width="1.94" height="39.1" fill="#9c9c9c" stroke="#3a3a3a" stroke-width="0.5"/>
<rect x="247.01" y="737.48" width="1.94" height="34.82" fill="#9c9c9c" stroke="#3a3a3a" stroke-width="0.5"/>
<rect x="250" y="717.56" width="1.94" height="54.74" fill="#9c9c9c" stroke="#3a3a3a" stroke-width="0.5"/>
<rect x="253" y="723.07" width="1.94" height="49.23" fill="#9c9c9c" stroke="#3a3a3a" stroke-width="0.5"/>
<rect x="255.99" y="733.95" width="1.94" height="38.35" fill="#9c9c9c" stroke="#3a3a3a" stroke-width="0.5"/>
<rect x="258.98" y="729.39" width="1.94" height="42.91" fill="#9c9c9c" stroke="#3a3a3a" stroke-width="0.5"/>
<rect x="261.97" y="716.54" width="1.94" height="55.76" fill="#9c9c9c" stroke="#3a3a3a" stroke-width="0.5"/>
<rect x="264.96" y="698.18" width="1.94" height="74.12" fill="#9c9c9c" stroke="#3a3a3a" stroke-width="0.5"/>
<rect x="267.95" y="687.98" width="1.94" height="84.32" fill="#9c9c9c" stroke="#3a3a3a" stroke-width="0.5"/>
<rect x="270.94" y="700.9" width="1.94" height="71.4" fill="#9c9c9c" stroke="#3a3a3a" stroke-width="0.5"/>
<rect x="273.93" y="701.78" width="1.94" height="70.52" fill="#9c9c9c" stroke="#3a3a3a" stroke-width="0.5"/>
<rect x="276.92" y="703.14" width="1.94" height="69.16" fill="#9c9c9c" stroke="#3a3a3a" stroke-width="0.5"/>
<rect x="279.91" y="706.27" width="1.94" height="66.03" fill="#9c9c9c" stroke="#3a3a3a" stroke-width="0.5"/>
<rect x="282.9" y="707.29" width="1.94" height="65.01" fill="#9c9c9c" stroke="#3a3a3a" stroke-width="0.5"/>
<rect x="285.89" y="706.27" width="1.94" height="66.03" fill="#9c9c9c" stroke="#3a3a3a" stroke-width="0.5"/>
<rect x="288.88" y="708.65" width="1.94" height="63.65" fill="#9c9c9c" stroke="#3a3a3a" stroke-width="0.5"/>
<rect x="291.88" y="708.92" width="1.94" height="63.38" fill="#9c9c9c" stroke="#3a3a3a" stroke-width="0.5"/>
<rect x="294.87" y="702.06" width="1.94" height="70.24" fill="#9c9c9c" stroke="#3a3a3a" stroke-width="0.5"/>
<rect x="297.86" y="707.09" width="1.94" height="65.21" fill="#9c9c9c" stroke="#3a3a3a" stroke-width="0.5"/>
<rect x="300.85" y="710.62" width="1.94" height="61.68" fill="#9c9c9c" stroke="#3a3a3a" stroke-width="0.5"/>
<rect x="303.84" y="717.83" width="1.94" height="54.47" fill="#9c9c9c" stroke="#3a3a3a" stroke-width="0.5"/>
<rect x="306.83" y="712.94" width="1.94" height="59.36" fill="#9c9c9c" stroke="#3a3a3a" stroke-width="0.5"/>
<line x1="76.3" y1="772.8" x2="313.8" y2="772.8" stroke="#222" stroke-width="1.3"/>
<line x1="76.8" y1="667.2" x2="76.8" y2="773.3" stroke="#444" stroke-width="1.3"/>
<line x1="69.5" y1="899.2" x2="307.5" y2="899.2" stroke="#ececec" stroke-width="1.0"/>
<line x1="69.5" y1="884.6" x2="307.5" y2="884.6" stroke="#ececec" stroke-width="1.0"/>
<line x1="69.5" y1="870" x2="307.5" y2="870" stroke="#ececec" stroke-width="1.0"/>
<line x1="69.5" y1="855.4" x2="307.5" y2="855.4" stroke="#ececec" stroke-width="1.0"/>
<line x1="69.5" y1="840.8" x2="307.5" y2="840.8" stroke="#ececec" stroke-width="1.0"/>
<line x1="69.5" y1="826.2" x2="307.5" y2="826.2" stroke="#ececec" stroke-width="1.0"/>
<line x1="68" y1="820" x2="314" y2="820" stroke="#efefef" stroke-width="1.0"/>
<rect x="76.54" y="893.21" width="1.93" height="20.59" fill="#9c9c9c" stroke="#3a3a3a" stroke-width="0.5"/>
<rect x="79.51" y="893.8" width="1.93" height="20" fill="#9c9c9c" stroke="#3a3a3a" stroke-width="0.5"/>
<rect x="82.49" y="891.61" width="1.93" height="22.19" fill="#9c9c9c" stroke="#3a3a3a" stroke-width="0.5"/>
<rect x="85.47" y="892.92" width="1.93" height="20.88" fill="#9c9c9c" stroke="#3a3a3a" stroke-width="0.5"/>
<rect x="88.45" y="893.8" width="1.93" height="20" fill="#9c9c9c" stroke="#3a3a3a" stroke-width="0.5"/>
<rect x="91.43" y="894.53" width="1.93" height="19.27" fill="#9c9c9c" stroke="#3a3a3a" stroke-width="0.5"/>
<rect x="94.4" y="893.8" width="1.93" height="20" fill="#9c9c9c" stroke="#3a3a3a" stroke-width="0.5"/>
<rect x="97.38" y="893.8" width="1.93" height="20" fill="#9c9c9c" stroke="#3a3a3a" stroke-width="0.5"/>
<rect x="100.36" y="893.21" width="1.93" height="20.59" fill="#9c9c9c" stroke="#3a3a3a" stroke-width="0.5"/>
<rect x="103.34" y="893.65" width="1.93" height="20.15" fill="#9c9c9c" stroke="#3a3a3a" stroke-width="0.5"/>
<rect x="106.32" y="889.42" width="1.93" height="24.38" fill="#9c9c9c" stroke="#3a3a3a" stroke-width="0.5"/>
<rect x="109.29" y="891.02" width="1.93" height="22.78" fill="#9c9c9c" stroke="#3a3a3a" stroke-width="0.5"/>
<rect x="112.27" y="889.42" width="1.93" height="24.38" fill="#9c9c9c" stroke="#3a3a3a" stroke-width="0.5"/>
<rect x="115.25" y="887.96" width="1.93" height="25.84" fill="#9c9c9c" stroke="#3a3a3a" stroke-width="0.5"/>
<rect x="118.23" y="889.42" width="1.93" height="24.38" fill="#9c9c9c" stroke="#3a3a3a" stroke-width="0.5"/>
<rect x="121.2" y="887.52" width="1.93" height="26.28" fill="#9c9c9c" stroke="#3a3a3a" stroke-width="0.5"/>
<rect x="124.18" y="886.21" width="1.93" height="27.59" fill="#9c9c9c" stroke="#3a3a3a" stroke-width="0.5"/>
<rect x="127.16" y="887.08" width="1.93" height="26.72" fill="#9c9c9c" stroke="#3a3a3a" stroke-width="0.5"/>
<rect x="130.14" y="884.89" width="1.93" height="28.91" fill="#9c9c9c" stroke="#3a3a3a" stroke-width="0.5"/>
<rect x="133.12" y="884.45" width="1.93" height="29.35" fill="#9c9c9c" stroke="#3a3a3a" stroke-width="0.5"/>
<rect x="136.09" y="886.35" width="1.93" height="27.45" fill="#9c9c9c" stroke="#3a3a3a" stroke-width="0.5"/>
<rect x="139.07" y="887.08" width="1.93" height="26.72" fill="#9c9c9c" stroke="#3a3a3a" stroke-width="0.5"/>
<rect x="142.05" y="886.35" width="1.93" height="27.45" fill="#9c9c9c" stroke="#3a3a3a" stroke-width="0.5"/>
<rect x="145.03" y="886.35" width="1.93" height="27.45" fill="#9c9c9c" stroke="#3a3a3a" stroke-width="0.5"/>
<rect x="148.01" y="884.89" width="1.93" height="28.91" fill="#9c9c9c" stroke="#3a3a3a" stroke-width="0.5"/>
<rect x="150.98" y="881.24" width="1.93" height="32.56" fill="#9c9c9c" stroke="#3a3a3a" stroke-width="0.5"/>
<rect x="153.96" y="877.3" width="1.93" height="36.5" fill="#9c9c9c" stroke="#3a3a3a" stroke-width="0.5"/>
<rect x="156.94" y="877.01" width="1.93" height="36.79" fill="#9c9c9c" stroke="#3a3a3a" stroke-width="0.5"/>
<rect x="159.92" y="870.73" width="1.93" height="43.07" fill="#9c9c9c" stroke="#3a3a3a" stroke-width="0.5"/>
<rect x="162.9" y="856.42" width="1.93" height="57.38" fill="#9c9c9c" stroke="#3a3a3a" stroke-width="0.5"/>
<rect x="165.87" y="856.42" width="1.93" height="57.38" fill="#9c9c9c" stroke="#3a3a3a" stroke-width="0.5"/>
<rect x="168.85" y="851.02" width="1.93" height="62.78" fill="#9c9c9c" stroke="#3a3a3a" stroke-width="0.5"/>
<rect x="171.83" y="850.14" width="1.93" height="63.66" fill="#9c9c9c" stroke="#3a3a3a" stroke-width="0.5"/>
<rect x="174.81" y="856.42" width="1.93" height="57.38" fill="#9c9c9c" stroke="#3a3a3a" stroke-width="0.5"/>
<rect x="177.79" y="842.11" width="1.93" height="71.69" fill="#9c9c9c" stroke="#3a3a3a" stroke-width="0.5"/>
<rect x="180.76" y="853.5" width="1.93" height="60.3" fill="#9c9c9c" stroke="#3a3a3a" stroke-width="0.5"/>
<rect x="183.74" y="859.63" width="1.93" height="54.17" fill="#9c9c9c" stroke="#3a3a3a" stroke-width="0.5"/>
<rect x="186.72" y="853.5" width="1.93" height="60.3" fill="#9c9c9c" stroke="#3a3a3a" stroke-width="0.5"/>
<rect x="189.7" y="865.91" width="1.93" height="47.89" fill="#9c9c9c" stroke="#3a3a3a" stroke-width="0.5"/>
<rect x="192.68" y="868.1" width="1.93" height="45.7" fill="#9c9c9c" stroke="#3a3a3a" stroke-width="0.5"/>
<rect x="195.65" y="870.58" width="1.93" height="43.22" fill="#9c9c9c" stroke="#3a3a3a" stroke-width="0.5"/>
<rect x="198.63" y="877.3" width="1.93" height="36.5" fill="#9c9c9c" stroke="#3a3a3a" stroke-width="0.5"/>
<rect x="201.61" y="881.83" width="1.93" height="31.97" fill="#9c9c9c" stroke="#3a3a3a" stroke-width="0.5"/>
<rect x="204.59" y="880.51" width="1.93" height="33.29" fill="#9c9c9c" stroke="#3a3a3a" stroke-width="0.5"/>
<rect x="207.56" y="879.05" width="1.93" height="34.75" fill="#9c9c9c" stroke="#3a3a3a" stroke-width="0.5"/>
<rect x="210.54" y="877.3" width="1.93" height="36.5" fill="#9c9c9c" stroke="#3a3a3a" stroke-width="0.5"/>
<rect x="213.52" y="881.53" width="1.93" height="32.27" fill="#9c9c9c" stroke="#3a3a3a" stroke-width="0.5"/>
<rect x="216.5" y="891.02" width="1.93" height="22.78" fill="#9c9c9c" stroke="#3a3a3a" stroke-width="0.5"/>
<rect x="219.48" y="891.32" width="1.93" height="22.48" fill="#9c9c9c" stroke="#3a3a3a" stroke-width="0.5"/>
<rect x="222.45" y="884.45" width="1.93" height="29.35" fill="#9c9c9c" stroke="#3a3a3a" stroke-width="0.5"/>
<rect x="225.43" y="887.52" width="1.93" height="26.28" fill="#9c9c9c" stroke="#3a3a3a" stroke-width="0.5"/>
<rect x="228.41" y="892.63" width="1.93" height="21.17" fill="#9c9c9c" stroke="#3a3a3a" stroke-width="0.5"/>
<rect x="231.39" y="895.11" width="1.93" height="18.69" fill="#9c9c9c" stroke="#3a3a3a" stroke-width="0.5"/>
<rect x="234.37" y="893.21" width="1.93" height="20.59" fill="#9c9c9c" stroke="#3a3a3a" stroke-width="0.5"/>
<rect x="237.34" y="894.97" width="1.93" height="18.83" fill="#9c9c9c" stroke="#3a3a3a" stroke-width="0.5"/>
<rect x="240.32" y="895.84" width="1.93" height="17.96" fill="#9c9c9c" stroke="#3a3a3a" stroke-width="0.5"/>
<rect x="243.3" y="898.18" width="1.93" height="15.62" fill="#9c9c9c" stroke="#3a3a3a" stroke-width="0.5"/>
<rect x="246.28" y="898.47" width="1.93" height="15.33" fill="#9c9c9c" stroke="#3a3a3a" stroke-width="0.5"/>
<rect x="249.26" y="899.2" width="1.93" height="14.6" fill="#9c9c9c" stroke="#3a3a3a" stroke-width="0.5"/>
<rect x="252.23" y="901.02" width="1.93" height="12.78" fill="#9c9c9c" stroke="#3a3a3a" stroke-width="0.5"/>
<rect x="255.21" y="901.68" width="1.93" height="12.12" fill="#9c9c9c" stroke="#3a3a3a" stroke-width="0.5"/>
<rect x="258.19" y="900.81" width="1.93" height="12.99" fill="#9c9c9c" stroke="#3a3a3a" stroke-width="0.5"/>
<rect x="261.17" y="901.68" width="1.93" height="12.12" fill="#9c9c9c" stroke="#3a3a3a" stroke-width="0.5"/>
<rect x="264.15" y="902.7" width="1.93" height="11.1" fill="#9c9c9c" stroke="#3a3a3a" stroke-width="0.5"/>
<rect x="267.12" y="902.41" width="1.93" height="11.39" fill="#9c9c9c" stroke="#3a3a3a" stroke-width="0.5"/>
<rect x="270.1" y="900.51" width="1.93" height="13.29" fill="#9c9c9c" stroke="#3a3a3a" stroke-width="0.5"/>
<rect x="273.08" y="900.51" width="1.93" height="13.29" fill="#9c9c9c" stroke="#3a3a3a" stroke-width="0.5"/>
<rect x="276.06" y="902.12" width="1.93" height="11.68" fill="#9c9c9c" stroke="#3a3a3a" stroke-width="0.5"/>
<rect x="279.03" y="902.7" width="1.93" height="11.1" fill="#9c9c9c" stroke="#3a3a3a" stroke-width="0.5"/>
<rect x="282.01" y="901.68" width="1.93" height="12.12" fill="#9c9c9c" stroke="#3a3a3a" stroke-width="0.5"/>
<rect x="284.99" y="902.7" width="1.93" height="11.1" fill="#9c9c9c" stroke="#3a3a3a" stroke-width="0.5"/>
<rect x="287.97" y="904.31" width="1.93" height="9.49" fill="#9c9c9c" stroke="#3a3a3a" stroke-width="0.5"/>
<rect x="290.95" y="902.7" width="1.93" height="11.1" fill="#9c9c9c" stroke="#3a3a3a" stroke-width="0.5"/>
<rect x="293.92" y="903.14" width="1.93" height="10.66" fill="#9c9c9c" stroke="#3a3a3a" stroke-width="0.5"/>
<rect x="296.9" y="905.33" width="1.93" height="8.47" fill="#9c9c9c" stroke="#3a3a3a" stroke-width="0.5"/>
<rect x="299.88" y="905.04" width="1.93" height="8.76" fill="#9c9c9c" stroke="#3a3a3a" stroke-width="0.5"/>
<rect x="302.86" y="905.77" width="1.93" height="8.03" fill="#9c9c9c" stroke="#3a3a3a" stroke-width="0.5"/>
<rect x="305.84" y="905.04" width="1.93" height="8.76" fill="#9c9c9c" stroke="#3a3a3a" stroke-width="0.5"/>
<line x1="74.8" y1="914.3" x2="314" y2="914.3" stroke="#222" stroke-width="1.3"/>
<line x1="75.3" y1="820.8" x2="75.3" y2="914.8" stroke="#444" stroke-width="1.3"/>
<line x1="432.3" y1="579.5" x2="660.9" y2="579.5" stroke="#d8d8d8" stroke-width="1.0"/>
<line x1="432.3" y1="534" x2="660.9" y2="534" stroke="#d8d8d8" stroke-width="1.0"/>
<rect x="438.8" y="612.31" width="1.81" height="12.69" fill="#9c9c9c" stroke="#3a3a3a" stroke-width="0.5"/>
<rect x="441.65" y="615.22" width="1.81" height="9.78" fill="#9c9c9c" stroke="#3a3a3a" stroke-width="0.5"/>
<rect x="444.51" y="615.81" width="1.81" height="9.19" fill="#9c9c9c" stroke="#3a3a3a" stroke-width="0.5"/>
<rect x="447.36" y="611.17" width="1.81" height="13.83" fill="#9c9c9c" stroke="#3a3a3a" stroke-width="0.5"/>
<rect x="450.22" y="614.81" width="1.81" height="10.19" fill="#9c9c9c" stroke="#3a3a3a" stroke-width="0.5"/>
<rect x="453.08" y="610.44" width="1.81" height="14.56" fill="#9c9c9c" stroke="#3a3a3a" stroke-width="0.5"/>
<rect x="455.93" y="606.35" width="1.81" height="18.65" fill="#9c9c9c" stroke="#3a3a3a" stroke-width="0.5"/>
<rect x="458.79" y="616.26" width="1.81" height="8.74" fill="#9c9c9c" stroke="#3a3a3a" stroke-width="0.5"/>
<rect x="461.64" y="616.26" width="1.81" height="8.74" fill="#9c9c9c" stroke="#3a3a3a" stroke-width="0.5"/>
<rect x="464.5" y="613.35" width="1.81" height="11.65" fill="#9c9c9c" stroke="#3a3a3a" stroke-width="0.5"/>
<rect x="467.36" y="614.35" width="1.81" height="10.65" fill="#9c9c9c" stroke="#3a3a3a" stroke-width="0.5"/>
<rect x="470.21" y="614.81" width="1.81" height="10.19" fill="#9c9c9c" stroke="#3a3a3a" stroke-width="0.5"/>
<rect x="473.07" y="613.35" width="1.81" height="11.65" fill="#9c9c9c" stroke="#3a3a3a" stroke-width="0.5"/>
<rect x="475.92" y="612.62" width="1.81" height="12.38" fill="#9c9c9c" stroke="#3a3a3a" stroke-width="0.5"/>
<rect x="478.78" y="616.26" width="1.81" height="8.74" fill="#9c9c9c" stroke="#3a3a3a" stroke-width="0.5"/>
<rect x="481.63" y="617.99" width="1.81" height="7.01" fill="#9c9c9c" stroke="#3a3a3a" stroke-width="0.5"/>
<rect x="484.49" y="617.99" width="1.81" height="7.01" fill="#9c9c9c" stroke="#3a3a3a" stroke-width="0.5"/>
<rect x="487.35" y="615.22" width="1.81" height="9.78" fill="#9c9c9c" stroke="#3a3a3a" stroke-width="0.5"/>
<rect x="490.2" y="614.35" width="1.81" height="10.65" fill="#9c9c9c" stroke="#3a3a3a" stroke-width="0.5"/>
<rect x="493.06" y="615.54" width="1.81" height="9.46" fill="#9c9c9c" stroke="#3a3a3a" stroke-width="0.5"/>
<rect x="495.91" y="616.26" width="1.81" height="8.74" fill="#9c9c9c" stroke="#3a3a3a" stroke-width="0.5"/>
<rect x="498.77" y="613.62" width="1.81" height="11.38" fill="#9c9c9c" stroke="#3a3a3a" stroke-width="0.5"/>
<rect x="501.63" y="616.67" width="1.81" height="8.33" fill="#9c9c9c" stroke="#3a3a3a" stroke-width="0.5"/>
<rect x="504.48" y="617.72" width="1.81" height="7.28" fill="#9c9c9c" stroke="#3a3a3a" stroke-width="0.5"/>
<rect x="507.34" y="617.99" width="1.81" height="7.01" fill="#9c9c9c" stroke="#3a3a3a" stroke-width="0.5"/>
<rect x="510.19" y="615.9" width="1.81" height="9.1" fill="#9c9c9c" stroke="#3a3a3a" stroke-width="0.5"/>
<rect x="513.05" y="615.13" width="1.81" height="9.87" fill="#9c9c9c" stroke="#3a3a3a" stroke-width="0.5"/>
<rect x="515.9" y="612.67" width="1.81" height="12.33" fill="#9c9c9c" stroke="#3a3a3a" stroke-width="0.5"/>
<rect x="518.76" y="612.9" width="1.81" height="12.1" fill="#9c9c9c" stroke="#3a3a3a" stroke-width="0.5"/>
<rect x="521.62" y="614.17" width="1.81" height="10.83" fill="#9c9c9c" stroke="#3a3a3a" stroke-width="0.5"/>
<rect x="524.47" y="618.36" width="1.81" height="6.64" fill="#9c9c9c" stroke="#3a3a3a" stroke-width="0.5"/>
<rect x="527.33" y="617.13" width="1.81" height="7.87" fill="#9c9c9c" stroke="#3a3a3a" stroke-width="0.5"/>
<rect x="530.18" y="617.13" width="1.81" height="7.87" fill="#9c9c9c" stroke="#3a3a3a" stroke-width="0.5"/>
<rect x="533.04" y="617.13" width="1.81" height="7.87" fill="#9c9c9c" stroke="#3a3a3a" stroke-width="0.5"/>
<rect x="535.9" y="615.9" width="1.81" height="9.1" fill="#9c9c9c" stroke="#3a3a3a" stroke-width="0.5"/>
<rect x="538.75" y="614.17" width="1.81" height="10.83" fill="#9c9c9c" stroke="#3a3a3a" stroke-width="0.5"/>
<rect x="541.61" y="612.9" width="1.81" height="12.1" fill="#9c9c9c" stroke="#3a3a3a" stroke-width="0.5"/>
<rect x="544.46" y="615.9" width="1.81" height="9.1" fill="#9c9c9c" stroke="#3a3a3a" stroke-width="0.5"/>
<rect x="547.32" y="619.09" width="1.81" height="5.92" fill="#9c9c9c" stroke="#3a3a3a" stroke-width="0.5"/>
<rect x="550.17" y="617.86" width="1.81" height="7.14" fill="#9c9c9c" stroke="#3a3a3a" stroke-width="0.5"/>
<rect x="553.03" y="617.58" width="1.81" height="7.42" fill="#9c9c9c" stroke="#3a3a3a" stroke-width="0.5"/>
<rect x="555.89" y="617.13" width="1.81" height="7.87" fill="#9c9c9c" stroke="#3a3a3a" stroke-width="0.5"/>
<rect x="558.74" y="618.36" width="1.81" height="6.64" fill="#9c9c9c" stroke="#3a3a3a" stroke-width="0.5"/>
<rect x="561.6" y="616.63" width="1.81" height="8.37" fill="#9c9c9c" stroke="#3a3a3a" stroke-width="0.5"/>
<rect x="564.45" y="616.63" width="1.81" height="8.37" fill="#9c9c9c" stroke="#3a3a3a" stroke-width="0.5"/>
<rect x="567.31" y="614.63" width="1.81" height="10.37" fill="#9c9c9c" stroke="#3a3a3a" stroke-width="0.5"/>
<rect x="570.17" y="617.13" width="1.81" height="7.87" fill="#9c9c9c" stroke="#3a3a3a" stroke-width="0.5"/>
<rect x="573.02" y="617.86" width="1.81" height="7.14" fill="#9c9c9c" stroke="#3a3a3a" stroke-width="0.5"/>
<rect x="575.88" y="619.09" width="1.81" height="5.92" fill="#9c9c9c" stroke="#3a3a3a" stroke-width="0.5"/>
<rect x="578.73" y="617.13" width="1.81" height="7.87" fill="#9c9c9c" stroke="#3a3a3a" stroke-width="0.5"/>
<rect x="581.59" y="617.58" width="1.81" height="7.42" fill="#9c9c9c" stroke="#3a3a3a" stroke-width="0.5"/>
<rect x="584.45" y="617.58" width="1.81" height="7.42" fill="#9c9c9c" stroke="#3a3a3a" stroke-width="0.5"/>
<rect x="587.3" y="617.58" width="1.81" height="7.42" fill="#9c9c9c" stroke="#3a3a3a" stroke-width="0.5"/>
<rect x="590.16" y="613.4" width="1.81" height="11.6" fill="#9c9c9c" stroke="#3a3a3a" stroke-width="0.5"/>
<rect x="593.01" y="618.36" width="1.81" height="6.64" fill="#9c9c9c" stroke="#3a3a3a" stroke-width="0.5"/>
<rect x="595.87" y="620.31" width="1.81" height="4.69" fill="#9c9c9c" stroke="#3a3a3a" stroke-width="0.5"/>
<rect x="598.72" y="619.09" width="1.81" height="5.92" fill="#9c9c9c" stroke="#3a3a3a" stroke-width="0.5"/>
<rect x="601.58" y="617.13" width="1.81" height="7.87" fill="#9c9c9c" stroke="#3a3a3a" stroke-width="0.5"/>
<rect x="604.44" y="616.63" width="1.81" height="8.37" fill="#9c9c9c" stroke="#3a3a3a" stroke-width="0.5"/>
<rect x="607.29" y="616.63" width="1.81" height="8.37" fill="#9c9c9c" stroke="#3a3a3a" stroke-width="0.5"/>
<rect x="610.15" y="615.4" width="1.81" height="9.6" fill="#9c9c9c" stroke="#3a3a3a" stroke-width="0.5"/>
<rect x="613" y="614.53" width="1.81" height="10.46" fill="#9c9c9c" stroke="#3a3a3a" stroke-width="0.5"/>
<rect x="615.86" y="602.98" width="1.81" height="22.02" fill="#9c9c9c" stroke="#3a3a3a" stroke-width="0.5"/>
<rect x="618.72" y="590.42" width="1.81" height="34.58" fill="#9c9c9c" stroke="#3a3a3a" stroke-width="0.5"/>
<rect x="621.57" y="580.41" width="1.81" height="44.59" fill="#9c9c9c" stroke="#3a3a3a" stroke-width="0.5"/>
<rect x="624.43" y="570.86" width="1.81" height="54.14" fill="#9c9c9c" stroke="#3a3a3a" stroke-width="0.5"/>
<rect x="627.28" y="571.31" width="1.81" height="53.69" fill="#9c9c9c" stroke="#3a3a3a" stroke-width="0.5"/>
<rect x="630.14" y="568.58" width="1.81" height="56.42" fill="#9c9c9c" stroke="#3a3a3a" stroke-width="0.5"/>
<rect x="632.99" y="564.49" width="1.81" height="60.52" fill="#9c9c9c" stroke="#3a3a3a" stroke-width="0.5"/>
<rect x="635.85" y="561.3" width="1.81" height="63.7" fill="#9c9c9c" stroke="#3a3a3a" stroke-width="0.5"/>
<rect x="638.71" y="574.04" width="1.81" height="50.96" fill="#9c9c9c" stroke="#3a3a3a" stroke-width="0.5"/>
<rect x="641.56" y="570.4" width="1.81" height="54.6" fill="#9c9c9c" stroke="#3a3a3a" stroke-width="0.5"/>
<rect x="644.42" y="567.22" width="1.81" height="57.78" fill="#9c9c9c" stroke="#3a3a3a" stroke-width="0.5"/>
<rect x="647.27" y="568.58" width="1.81" height="56.42" fill="#9c9c9c" stroke="#3a3a3a" stroke-width="0.5"/>
<rect x="650.13" y="569.95" width="1.81" height="55.05" fill="#9c9c9c" stroke="#3a3a3a" stroke-width="0.5"/>
<rect x="652.99" y="565.85" width="1.81" height="59.15" fill="#9c9c9c" stroke="#3a3a3a" stroke-width="0.5"/>
<rect x="655.84" y="565.85" width="1.81" height="59.15" fill="#9c9c9c" stroke="#3a3a3a" stroke-width="0.5"/>
<rect x="658.7" y="566.3" width="1.81" height="58.7" fill="#9c9c9c" stroke="#3a3a3a" stroke-width="0.5"/>
<line x1="437.1" y1="625.5" x2="672.6" y2="625.5" stroke="#222" stroke-width="1.3"/>
<line x1="437.6" y1="533.3" x2="437.6" y2="626" stroke="#6a6a6a" stroke-width="2.2"/>
<line x1="439.3" y1="703.3" x2="669.5" y2="703.3" stroke="#d8d8d8" stroke-width="1.0"/>
<rect x="437.68" y="772.36" width="1.85" height="0.84" fill="#9c9c9c" stroke="#3a3a3a" stroke-width="0.5"/>
<rect x="440.57" y="772.5" width="1.85" height="0.7" fill="#9c9c9c" stroke="#3a3a3a" stroke-width="0.5"/>
<rect x="443.47" y="772.5" width="1.85" height="0.7" fill="#9c9c9c" stroke="#3a3a3a" stroke-width="0.5"/>
<rect x="446.37" y="772.5" width="1.85" height="0.7" fill="#9c9c9c" stroke="#3a3a3a" stroke-width="0.5"/>
<rect x="449.27" y="772.22" width="1.85" height="0.98" fill="#9c9c9c" stroke="#3a3a3a" stroke-width="0.5"/>
<rect x="452.17" y="772.08" width="1.85" height="1.12" fill="#9c9c9c" stroke="#3a3a3a" stroke-width="0.5"/>
<rect x="455.07" y="771.94" width="1.85" height="1.26" fill="#9c9c9c" stroke="#3a3a3a" stroke-width="0.5"/>
<rect x="457.97" y="772.36" width="1.85" height="0.84" fill="#9c9c9c" stroke="#3a3a3a" stroke-width="0.5"/>
<rect x="460.87" y="771.38" width="1.85" height="1.82" fill="#9c9c9c" stroke="#3a3a3a" stroke-width="0.5"/>
<rect x="463.76" y="771.52" width="1.85" height="1.68" fill="#9c9c9c" stroke="#3a3a3a" stroke-width="0.5"/>
<rect x="466.66" y="772.22" width="1.85" height="0.98" fill="#9c9c9c" stroke="#3a3a3a" stroke-width="0.5"/>
<rect x="469.56" y="772.36" width="1.85" height="0.84" fill="#9c9c9c" stroke="#3a3a3a" stroke-width="0.5"/>
<rect x="472.46" y="772.5" width="1.85" height="0.7" fill="#9c9c9c" stroke="#3a3a3a" stroke-width="0.5"/>
<rect x="475.36" y="771.94" width="1.85" height="1.26" fill="#9c9c9c" stroke="#3a3a3a" stroke-width="0.5"/>
<rect x="478.26" y="772.36" width="1.85" height="0.84" fill="#9c9c9c" stroke="#3a3a3a" stroke-width="0.5"/>
<rect x="481.16" y="772.5" width="1.85" height="0.7" fill="#9c9c9c" stroke="#3a3a3a" stroke-width="0.5"/>
<rect x="484.06" y="771.52" width="1.85" height="1.68" fill="#9c9c9c" stroke="#3a3a3a" stroke-width="0.5"/>
<rect x="486.95" y="772.5" width="1.85" height="0.7" fill="#9c9c9c" stroke="#3a3a3a" stroke-width="0.5"/>
<rect x="489.85" y="772.64" width="1.85" height="0.56" fill="#9c9c9c" stroke="#3a3a3a" stroke-width="0.5"/>
<rect x="492.75" y="772.36" width="1.85" height="0.84" fill="#9c9c9c" stroke="#3a3a3a" stroke-width="0.5"/>
<rect x="495.65" y="772.5" width="1.85" height="0.7" fill="#9c9c9c" stroke="#3a3a3a" stroke-width="0.5"/>
<rect x="498.55" y="771.94" width="1.85" height="1.26" fill="#9c9c9c" stroke="#3a3a3a" stroke-width="0.5"/>
<rect x="501.45" y="772.36" width="1.85" height="0.84" fill="#9c9c9c" stroke="#3a3a3a" stroke-width="0.5"/>
<rect x="504.35" y="758.8" width="1.85" height="14.4" fill="#9c9c9c" stroke="#3a3a3a" stroke-width="0.5"/>
<rect x="507.24" y="756.14" width="1.85" height="17.06" fill="#9c9c9c" stroke="#3a3a3a" stroke-width="0.5"/>
<rect x="510.14" y="762.02" width="1.85" height="11.18" fill="#9c9c9c" stroke="#3a3a3a" stroke-width="0.5"/>
<rect x="513.04" y="765.51" width="1.85" height="7.69" fill="#9c9c9c" stroke="#3a3a3a" stroke-width="0.5"/>
<rect x="515.94" y="763.83" width="1.85" height="9.37" fill="#9c9c9c" stroke="#3a3a3a" stroke-width="0.5"/>
<rect x="518.84" y="763.13" width="1.85" height="10.07" fill="#9c9c9c" stroke="#3a3a3a" stroke-width="0.5"/>
<rect x="521.74" y="763.13" width="1.85" height="10.07" fill="#9c9c9c" stroke="#3a3a3a" stroke-width="0.5"/>
<rect x="524.64" y="758.8" width="1.85" height="14.4" fill="#9c9c9c" stroke="#3a3a3a" stroke-width="0.5"/>
<rect x="527.54" y="759.5" width="1.85" height="13.7" fill="#9c9c9c" stroke="#3a3a3a" stroke-width="0.5"/>
<rect x="530.43" y="762.72" width="1.85" height="10.48" fill="#9c9c9c" stroke="#3a3a3a" stroke-width="0.5"/>
<rect x="533.33" y="762.3" width="1.85" height="10.9" fill="#9c9c9c" stroke="#3a3a3a" stroke-width="0.5"/>
<rect x="536.23" y="759.36" width="1.85" height="13.84" fill="#9c9c9c" stroke="#3a3a3a" stroke-width="0.5"/>
<rect x="539.13" y="762.72" width="1.85" height="10.48" fill="#9c9c9c" stroke="#3a3a3a" stroke-width="0.5"/>
<rect x="542.03" y="763.13" width="1.85" height="10.07" fill="#9c9c9c" stroke="#3a3a3a" stroke-width="0.5"/>
<rect x="544.93" y="756.14" width="1.85" height="17.06" fill="#9c9c9c" stroke="#3a3a3a" stroke-width="0.5"/>
<rect x="547.83" y="755.86" width="1.85" height="17.34" fill="#9c9c9c" stroke="#3a3a3a" stroke-width="0.5"/>
<rect x="550.73" y="763.83" width="1.85" height="9.37" fill="#9c9c9c" stroke="#3a3a3a" stroke-width="0.5"/>
<rect x="553.62" y="759.36" width="1.85" height="13.84" fill="#9c9c9c" stroke="#3a3a3a" stroke-width="0.5"/>
<rect x="556.52" y="754.19" width="1.85" height="19.01" fill="#9c9c9c" stroke="#3a3a3a" stroke-width="0.5"/>
<rect x="559.42" y="762.3" width="1.85" height="10.9" fill="#9c9c9c" stroke="#3a3a3a" stroke-width="0.5"/>
<rect x="562.32" y="762.3" width="1.85" height="10.9" fill="#9c9c9c" stroke="#3a3a3a" stroke-width="0.5"/>
<rect x="565.22" y="753.49" width="1.85" height="19.71" fill="#9c9c9c" stroke="#3a3a3a" stroke-width="0.5"/>
<rect x="568.12" y="755.03" width="1.85" height="18.17" fill="#9c9c9c" stroke="#3a3a3a" stroke-width="0.5"/>
<rect x="571.02" y="763.13" width="1.85" height="10.07" fill="#9c9c9c" stroke="#3a3a3a" stroke-width="0.5"/>
<rect x="573.92" y="759.36" width="1.85" height="13.84" fill="#9c9c9c" stroke="#3a3a3a" stroke-width="0.5"/>
<rect x="576.81" y="758.8" width="1.85" height="14.4" fill="#9c9c9c" stroke="#3a3a3a" stroke-width="0.5"/>
<rect x="579.71" y="764.67" width="1.85" height="8.53" fill="#9c9c9c" stroke="#3a3a3a" stroke-width="0.5"/>
<rect x="582.61" y="758.8" width="1.85" height="14.4" fill="#9c9c9c" stroke="#3a3a3a" stroke-width="0.5"/>
<rect x="585.51" y="752.09" width="1.85" height="21.11" fill="#9c9c9c" stroke="#3a3a3a" stroke-width="0.5"/>
<rect x="588.41" y="757.82" width="1.85" height="15.38" fill="#9c9c9c" stroke="#3a3a3a" stroke-width="0.5"/>
<rect x="591.31" y="761.18" width="1.85" height="12.02" fill="#9c9c9c" stroke="#3a3a3a" stroke-width="0.5"/>
<rect x="594.21" y="758.8" width="1.85" height="14.4" fill="#9c9c9c" stroke="#3a3a3a" stroke-width="0.5"/>
<rect x="597.11" y="755.86" width="1.85" height="17.34" fill="#9c9c9c" stroke="#3a3a3a" stroke-width="0.5"/>
<rect x="600" y="756.14" width="1.85" height="17.06" fill="#9c9c9c" stroke="#3a3a3a" stroke-width="0.5"/>
<rect x="602.9" y="764.39" width="1.85" height="8.81" fill="#9c9c9c" stroke="#3a3a3a" stroke-width="0.5"/>
<rect x="605.8" y="759.5" width="1.85" height="13.7" fill="#9c9c9c" stroke="#3a3a3a" stroke-width="0.5"/>
<rect x="608.7" y="750.69" width="1.85" height="22.51" fill="#9c9c9c" stroke="#3a3a3a" stroke-width="0.5"/>
<rect x="611.6" y="758.52" width="1.85" height="14.68" fill="#9c9c9c" stroke="#3a3a3a" stroke-width="0.5"/>
<rect x="614.5" y="765.09" width="1.85" height="8.11" fill="#9c9c9c" stroke="#3a3a3a" stroke-width="0.5"/>
<rect x="617.4" y="757.26" width="1.85" height="15.94" fill="#9c9c9c" stroke="#3a3a3a" stroke-width="0.5"/>
<rect x="620.29" y="718.26" width="1.85" height="54.94" fill="#9c9c9c" stroke="#3a3a3a" stroke-width="0.5"/>
<rect x="623.19" y="716.3" width="1.85" height="56.9" fill="#9c9c9c" stroke="#3a3a3a" stroke-width="0.5"/>
<rect x="626.09" y="717" width="1.85" height="56.2" fill="#9c9c9c" stroke="#3a3a3a" stroke-width="0.5"/>
<rect x="628.99" y="698.55" width="1.85" height="74.65" fill="#9c9c9c" stroke="#3a3a3a" stroke-width="0.5"/>
<rect x="631.89" y="701.62" width="1.85" height="71.58" fill="#9c9c9c" stroke="#3a3a3a" stroke-width="0.5"/>
<rect x="634.79" y="700.64" width="1.85" height="72.56" fill="#9c9c9c" stroke="#3a3a3a" stroke-width="0.5"/>
<rect x="637.69" y="689.88" width="1.85" height="83.32" fill="#9c9c9c" stroke="#3a3a3a" stroke-width="0.5"/>
<rect x="640.59" y="690.44" width="1.85" height="82.76" fill="#9c9c9c" stroke="#3a3a3a" stroke-width="0.5"/>
<rect x="643.48" y="695.47" width="1.85" height="77.73" fill="#9c9c9c" stroke="#3a3a3a" stroke-width="0.5"/>
<rect x="646.38" y="699.81" width="1.85" height="73.39" fill="#9c9c9c" stroke="#3a3a3a" stroke-width="0.5"/>
<rect x="649.28" y="696.03" width="1.85" height="77.17" fill="#9c9c9c" stroke="#3a3a3a" stroke-width="0.5"/>
<rect x="652.18" y="692.54" width="1.85" height="80.66" fill="#9c9c9c" stroke="#3a3a3a" stroke-width="0.5"/>
<rect x="655.08" y="706.1" width="1.85" height="67.1" fill="#9c9c9c" stroke="#3a3a3a" stroke-width="0.5"/>
<rect x="657.98" y="693.65" width="1.85" height="79.55" fill="#9c9c9c" stroke="#3a3a3a" stroke-width="0.5"/>
<rect x="660.88" y="689.18" width="1.85" height="84.02" fill="#9c9c9c" stroke="#3a3a3a" stroke-width="0.5"/>
<rect x="663.78" y="697.15" width="1.85" height="76.05" fill="#9c9c9c" stroke="#3a3a3a" stroke-width="0.5"/>
<line x1="436.3" y1="773.7" x2="673.2" y2="773.7" stroke="#222" stroke-width="1.3"/>
<line x1="436.8" y1="681.5" x2="436.8" y2="774.2" stroke="#444" stroke-width="1.3"/>
<line x1="443" y1="868.2" x2="664.9" y2="868.2" stroke="#d8d8d8" stroke-width="1.0"/>
<line x1="443" y1="820.2" x2="664.9" y2="820.2" stroke="#d8d8d8" stroke-width="1.0"/>
<line x1="436" y1="812.7" x2="672.8" y2="812.7" stroke="#e8e8e8" stroke-width="1.0"/>
<rect x="443.7" y="905.54" width="1.8" height="10.66" fill="#9c9c9c" stroke="#3a3a3a" stroke-width="0.5"/>
<rect x="446.54" y="905.54" width="1.8" height="10.66" fill="#9c9c9c" stroke="#3a3a3a" stroke-width="0.5"/>
<rect x="449.39" y="915.05" width="1.8" height="1.15" fill="#9c9c9c" stroke="#3a3a3a" stroke-width="0.5"/>
<rect x="452.24" y="909.96" width="1.8" height="6.24" fill="#9c9c9c" stroke="#3a3a3a" stroke-width="0.5"/>
<rect x="455.09" y="905.54" width="1.8" height="10.66" fill="#9c9c9c" stroke="#3a3a3a" stroke-width="0.5"/>
<rect x="457.94" y="905.54" width="1.8" height="10.66" fill="#9c9c9c" stroke="#3a3a3a" stroke-width="0.5"/>
<rect x="460.78" y="905.54" width="1.8" height="10.66" fill="#9c9c9c" stroke="#3a3a3a" stroke-width="0.5"/>
<rect x="463.63" y="905.54" width="1.8" height="10.66" fill="#9c9c9c" stroke="#3a3a3a" stroke-width="0.5"/>
<rect x="466.48" y="905.54" width="1.8" height="10.66" fill="#9c9c9c" stroke="#3a3a3a" stroke-width="0.5"/>
<rect x="469.33" y="905.54" width="1.8" height="10.66" fill="#9c9c9c" stroke="#3a3a3a" stroke-width="0.5"/>
<rect x="472.18" y="905.54" width="1.8" height="10.66" fill="#9c9c9c" stroke="#3a3a3a" stroke-width="0.5"/>
<rect x="475.02" y="908.04" width="1.8" height="8.16" fill="#9c9c9c" stroke="#3a3a3a" stroke-width="0.5"/>
<rect x="477.87" y="905.54" width="1.8" height="10.66" fill="#9c9c9c" stroke="#3a3a3a" stroke-width="0.5"/>
<rect x="480.72" y="905.54" width="1.8" height="10.66" fill="#9c9c9c" stroke="#3a3a3a" stroke-width="0.5"/>
<rect x="483.57" y="913.32" width="1.8" height="2.88" fill="#9c9c9c" stroke="#3a3a3a" stroke-width="0.5"/>
<rect x="486.42" y="901.61" width="1.8" height="14.59" fill="#9c9c9c" stroke="#3a3a3a" stroke-width="0.5"/>
<rect x="489.26" y="899.3" width="1.8" height="16.9" fill="#9c9c9c" stroke="#3a3a3a" stroke-width="0.5"/>
<rect x="492.11" y="893.83" width="1.8" height="22.37" fill="#9c9c9c" stroke="#3a3a3a" stroke-width="0.5"/>
<rect x="494.96" y="893.83" width="1.8" height="22.37" fill="#9c9c9c" stroke="#3a3a3a" stroke-width="0.5"/>
<rect x="497.81" y="898.25" width="1.8" height="17.95" fill="#9c9c9c" stroke="#3a3a3a" stroke-width="0.5"/>
<rect x="500.66" y="894.31" width="1.8" height="21.89" fill="#9c9c9c" stroke="#3a3a3a" stroke-width="0.5"/>
<rect x="503.5" y="892.39" width="1.8" height="23.81" fill="#9c9c9c" stroke="#3a3a3a" stroke-width="0.5"/>
<rect x="506.35" y="881.06" width="1.8" height="35.14" fill="#9c9c9c" stroke="#3a3a3a" stroke-width="0.5"/>
<rect x="509.2" y="862.54" width="1.8" height="53.66" fill="#9c9c9c" stroke="#3a3a3a" stroke-width="0.5"/>
<rect x="512.05" y="838.44" width="1.8" height="77.76" fill="#9c9c9c" stroke="#3a3a3a" stroke-width="0.5"/>
<rect x="514.9" y="844.97" width="1.8" height="71.23" fill="#9c9c9c" stroke="#3a3a3a" stroke-width="0.5"/>
<rect x="517.75" y="844.68" width="1.8" height="71.52" fill="#9c9c9c" stroke="#3a3a3a" stroke-width="0.5"/>
<rect x="520.59" y="863.69" width="1.8" height="52.51" fill="#9c9c9c" stroke="#3a3a3a" stroke-width="0.5"/>
<rect x="523.44" y="872.71" width="1.8" height="43.49" fill="#9c9c9c" stroke="#3a3a3a" stroke-width="0.5"/>
<rect x="526.29" y="879.34" width="1.8" height="36.86" fill="#9c9c9c" stroke="#3a3a3a" stroke-width="0.5"/>
<rect x="529.14" y="882.89" width="1.8" height="33.31" fill="#9c9c9c" stroke="#3a3a3a" stroke-width="0.5"/>
<rect x="531.99" y="892.87" width="1.8" height="23.33" fill="#9c9c9c" stroke="#3a3a3a" stroke-width="0.5"/>
<rect x="534.83" y="894.31" width="1.8" height="21.89" fill="#9c9c9c" stroke="#3a3a3a" stroke-width="0.5"/>
<rect x="537.68" y="895.08" width="1.8" height="21.12" fill="#9c9c9c" stroke="#3a3a3a" stroke-width="0.5"/>
<rect x="540.53" y="897.19" width="1.8" height="19.01" fill="#9c9c9c" stroke="#3a3a3a" stroke-width="0.5"/>
<rect x="543.38" y="897.19" width="1.8" height="19.01" fill="#9c9c9c" stroke="#3a3a3a" stroke-width="0.5"/>
<rect x="546.22" y="907.46" width="1.8" height="8.74" fill="#9c9c9c" stroke="#3a3a3a" stroke-width="0.5"/>
<rect x="549.07" y="903.82" width="1.8" height="12.38" fill="#9c9c9c" stroke="#3a3a3a" stroke-width="0.5"/>
<rect x="551.92" y="904.78" width="1.8" height="11.42" fill="#9c9c9c" stroke="#3a3a3a" stroke-width="0.5"/>
<rect x="554.77" y="909.19" width="1.8" height="7.01" fill="#9c9c9c" stroke="#3a3a3a" stroke-width="0.5"/>
<rect x="557.62" y="909.67" width="1.8" height="6.53" fill="#9c9c9c" stroke="#3a3a3a" stroke-width="0.5"/>
<rect x="560.46" y="908.42" width="1.8" height="7.78" fill="#9c9c9c" stroke="#3a3a3a" stroke-width="0.5"/>
<rect x="563.31" y="902.18" width="1.8" height="14.02" fill="#9c9c9c" stroke="#3a3a3a" stroke-width="0.5"/>
<rect x="566.16" y="900.74" width="1.8" height="15.46" fill="#9c9c9c" stroke="#3a3a3a" stroke-width="0.5"/>
<rect x="569.01" y="908.42" width="1.8" height="7.78" fill="#9c9c9c" stroke="#3a3a3a" stroke-width="0.5"/>
<rect x="571.86" y="905.54" width="1.8" height="10.66" fill="#9c9c9c" stroke="#3a3a3a" stroke-width="0.5"/>
<rect x="574.7" y="905.54" width="1.8" height="10.66" fill="#9c9c9c" stroke="#3a3a3a" stroke-width="0.5"/>
<rect x="577.55" y="913.9" width="1.8" height="2.3" fill="#9c9c9c" stroke="#3a3a3a" stroke-width="0.5"/>
<rect x="580.4" y="905.54" width="1.8" height="10.66" fill="#9c9c9c" stroke="#3a3a3a" stroke-width="0.5"/>
<rect x="583.25" y="907.46" width="1.8" height="8.74" fill="#9c9c9c" stroke="#3a3a3a" stroke-width="0.5"/>
<rect x="586.1" y="905.83" width="1.8" height="10.37" fill="#9c9c9c" stroke="#3a3a3a" stroke-width="0.5"/>
<rect x="588.94" y="910.92" width="1.8" height="5.28" fill="#9c9c9c" stroke="#3a3a3a" stroke-width="0.5"/>
<rect x="591.79" y="911.69" width="1.8" height="4.51" fill="#9c9c9c" stroke="#3a3a3a" stroke-width="0.5"/>
<rect x="594.64" y="905.54" width="1.8" height="10.66" fill="#9c9c9c" stroke="#3a3a3a" stroke-width="0.5"/>
<rect x="597.49" y="905.54" width="1.8" height="10.66" fill="#9c9c9c" stroke="#3a3a3a" stroke-width="0.5"/>
<rect x="600.34" y="911.69" width="1.8" height="4.51" fill="#9c9c9c" stroke="#3a3a3a" stroke-width="0.5"/>
<rect x="603.18" y="905.54" width="1.8" height="10.66" fill="#9c9c9c" stroke="#3a3a3a" stroke-width="0.5"/>
<rect x="606.03" y="905.54" width="1.8" height="10.66" fill="#9c9c9c" stroke="#3a3a3a" stroke-width="0.5"/>
<rect x="608.88" y="905.54" width="1.8" height="10.66" fill="#9c9c9c" stroke="#3a3a3a" stroke-width="0.5"/>
<rect x="611.73" y="911.69" width="1.8" height="4.51" fill="#9c9c9c" stroke="#3a3a3a" stroke-width="0.5"/>
<rect x="614.58" y="911.69" width="1.8" height="4.51" fill="#9c9c9c" stroke="#3a3a3a" stroke-width="0.5"/>
<rect x="617.42" y="905.54" width="1.8" height="10.66" fill="#9c9c9c" stroke="#3a3a3a" stroke-width="0.5"/>
<rect x="620.27" y="909.19" width="1.8" height="7.01" fill="#9c9c9c" stroke="#3a3a3a" stroke-width="0.5"/>
<rect x="623.12" y="904.39" width="1.8" height="11.81" fill="#9c9c9c" stroke="#3a3a3a" stroke-width="0.5"/>
<rect x="625.97" y="900.74" width="1.8" height="15.46" fill="#9c9c9c" stroke="#3a3a3a" stroke-width="0.5"/>
<rect x="628.82" y="897.38" width="1.8" height="18.82" fill="#9c9c9c" stroke="#3a3a3a" stroke-width="0.5"/>
<rect x="631.66" y="889.9" width="1.8" height="26.3" fill="#9c9c9c" stroke="#3a3a3a" stroke-width="0.5"/>
<rect x="634.51" y="891.24" width="1.8" height="24.96" fill="#9c9c9c" stroke="#3a3a3a" stroke-width="0.5"/>
<rect x="637.36" y="896.33" width="1.8" height="19.87" fill="#9c9c9c" stroke="#3a3a3a" stroke-width="0.5"/>
<rect x="640.21" y="893.45" width="1.8" height="22.75" fill="#9c9c9c" stroke="#3a3a3a" stroke-width="0.5"/>
<rect x="643.06" y="894.79" width="1.8" height="21.41" fill="#9c9c9c" stroke="#3a3a3a" stroke-width="0.5"/>
<rect x="645.9" y="900.46" width="1.8" height="15.74" fill="#9c9c9c" stroke="#3a3a3a" stroke-width="0.5"/>
<rect x="648.75" y="893.45" width="1.8" height="22.75" fill="#9c9c9c" stroke="#3a3a3a" stroke-width="0.5"/>
<rect x="651.6" y="896.14" width="1.8" height="20.06" fill="#9c9c9c" stroke="#3a3a3a" stroke-width="0.5"/>
<rect x="654.45" y="894.79" width="1.8" height="21.41" fill="#9c9c9c" stroke="#3a3a3a" stroke-width="0.5"/>
<rect x="657.3" y="896.14" width="1.8" height="20.06" fill="#9c9c9c" stroke="#3a3a3a" stroke-width="0.5"/>
<rect x="660.14" y="892.58" width="1.8" height="23.62" fill="#9c9c9c" stroke="#3a3a3a" stroke-width="0.5"/>
<rect x="662.99" y="903.62" width="1.8" height="12.58" fill="#9c9c9c" stroke="#3a3a3a" stroke-width="0.5"/>
<line x1="435.5" y1="916.7" x2="672.8" y2="916.7" stroke="#222" stroke-width="1.3"/>
<line x1="436" y1="812.8" x2="436" y2="917.2" stroke="#444" stroke-width="1.3"/>
<text x="62.1" y="73.54" font-size="11.5" text-anchor="end" >3</text>
<text x="62.1" y="101.54" font-size="11.5" text-anchor="end" >2</text>
<text x="62.1" y="129.54" font-size="11.5" text-anchor="end" >1</text>
<text x="62.1" y="157.54" font-size="11.5" text-anchor="end" >0</text>
<text x="61" y="185.44" font-size="11.5" text-anchor="end" >10</text>
<text x="61" y="208.8" font-size="11.5" text-anchor="end" >8</text>
<text x="61" y="232.16" font-size="11.5" text-anchor="end" >6</text>
<text x="61" y="255.52" font-size="11.5" text-anchor="end" >4</text>
<text x="61" y="278.88" font-size="11.5" text-anchor="end" >2</text>
<text x="61" y="302.24" font-size="11.5" text-anchor="end" >0</text>
<text x="65.9" y="357.34" font-size="11.5" text-anchor="end" >0.3</text>
<text x="65.9" y="382.74" font-size="11.5" text-anchor="end" >0.2</text>
<text x="65.9" y="407.94" font-size="11.5" text-anchor="end" >0.1</text>
<text x="65.9" y="432.84" font-size="11.5" text-anchor="end" >0</text>
<text x="412.3" y="64.74" font-size="11.5" text-anchor="end" >3</text>
<text x="412.3" y="96.34" font-size="11.5" text-anchor="end" >2</text>
<text x="412.3" y="127.74" font-size="11.5" text-anchor="end" >1</text>
<text x="412.3" y="158.44" font-size="11.5" text-anchor="end" >0</text>
<text x="414.7" y="213.84" font-size="11.5" text-anchor="end" >0.6</text>
<text x="414.7" y="242.94" font-size="11.5" text-anchor="end" >0.4</text>
<text x="414.7" y="271.94" font-size="11.5" text-anchor="end" >0.2</text>
<text x="414.7" y="301.24" font-size="11.5" text-anchor="end" >0</text>
<text x="418.8" y="347.74" font-size="11.5" text-anchor="end" >0.08</text>
<text x="418.8" y="367.34" font-size="11.5" text-anchor="end" >0.06</text>
<text x="418.8" y="388.14" font-size="11.5" text-anchor="end" >0.04</text>
<text x="418.8" y="408.54" font-size="11.5" text-anchor="end" >0.02</text>
<text x="418.8" y="429.14" font-size="11.5" text-anchor="end" >0</text>
<text x="59.1" y="536.94" font-size="11.5" text-anchor="end" >3.5</text>
<text x="59.1" y="549.64" font-size="11.5" text-anchor="end" >3</text>
<text x="59.1" y="563.24" font-size="11.5" text-anchor="end" >2.5</text>
<text x="59.1" y="575.94" font-size="11.5" text-anchor="end" >2</text>
<text x="59.1" y="588.34" font-size="11.5" text-anchor="end" >1.5</text>
<text x="59.1" y="602.94" font-size="11.5" text-anchor="end" >1</text>
<text x="59.1" y="616.14" font-size="11.5" text-anchor="end" >0.5</text>
<text x="59.1" y="629.24" font-size="11.5" text-anchor="end" >0</text>
<text x="57.8" y="674.74" font-size="11.5" text-anchor="end" >15</text>
<text x="57.8" y="709.94" font-size="11.5" text-anchor="end" >10</text>
<text x="57.8" y="746.04" font-size="11.5" text-anchor="end" >5</text>
<text x="57.8" y="783.34" font-size="11.5" text-anchor="end" >0</text>
<text x="58.3" y="834.24" font-size="11.5" text-anchor="end" >0.6</text>
<text x="58.3" y="863.24" font-size="11.5" text-anchor="end" >0.4</text>
<text x="58.3" y="892.84" font-size="11.5" text-anchor="end" >0.2</text>
<text x="58.3" y="922.24" font-size="11.5" text-anchor="end" >0</text>
<text x="416.3" y="540.24" font-size="11.5" text-anchor="end" >20</text>
<text x="416.3" y="585.44" font-size="11.5" text-anchor="end" >10</text>
<text x="416.3" y="633.34" font-size="11.5" text-anchor="end" >0</text>
<text x="421.9" y="703.44" font-size="11.5" text-anchor="end" >50</text>
<text x="421.9" y="740.94" font-size="11.5" text-anchor="end" >25</text>
<text x="421.9" y="779.74" font-size="11.5" text-anchor="end" >0</text>
<text x="420.3" y="829.04" font-size="11.5" text-anchor="end" >0.1</text>
<text x="420.3" y="878.84" font-size="11.5" text-anchor="end" >0.05</text>
<text x="420.3" y="928.64" font-size="11.5" text-anchor="end" >0</text>
<text x="73.3" y="169.92" font-size="12" text-anchor="middle" >0</text>
<text x="108.6" y="169.92" font-size="12" text-anchor="middle" >10</text>
<text x="146.3" y="169.92" font-size="12" text-anchor="middle" >20</text>
<text x="184" y="169.92" font-size="12" text-anchor="middle" >30</text>
<text x="222.5" y="169.92" font-size="12" text-anchor="middle" >40</text>
<text x="260.6" y="169.92" font-size="12" text-anchor="middle" >50</text>
<text x="298.2" y="169.92" font-size="12" text-anchor="middle" >60</text>
<text x="75.4" y="319.32" font-size="12" text-anchor="middle" >0</text>
<text x="109.2" y="319.32" font-size="12" text-anchor="middle" >10</text>
<text x="148.4" y="319.32" font-size="12" text-anchor="middle" >20</text>
<text x="186.1" y="319.32" font-size="12" text-anchor="middle" >30</text>
<text x="222.8" y="319.32" font-size="12" text-anchor="middle" >40</text>
<text x="261.5" y="319.32" font-size="12" text-anchor="middle" >50</text>
<text x="299.3" y="319.32" font-size="12" text-anchor="middle" >60</text>
<text x="79" y="449.62" font-size="12" text-anchor="middle" >0</text>
<text x="113.9" y="449.62" font-size="12" text-anchor="middle" >10</text>
<text x="151.1" y="449.62" font-size="12" text-anchor="middle" >20</text>
<text x="189" y="449.62" font-size="12" text-anchor="middle" >30</text>
<text x="227" y="449.62" font-size="12" text-anchor="middle" >40</text>
<text x="265" y="449.62" font-size="12" text-anchor="middle" >50</text>
<text x="302.9" y="449.62" font-size="12" text-anchor="middle" >60</text>
<text x="427.1" y="173.32" font-size="12" text-anchor="middle" >0</text>
<text x="466.4" y="173.32" font-size="12" text-anchor="middle" >10</text>
<text x="507.2" y="173.32" font-size="12" text-anchor="middle" >20</text>
<text x="548" y="173.32" font-size="12" text-anchor="middle" >30</text>
<text x="589.3" y="173.32" font-size="12" text-anchor="middle" >40</text>
<text x="629.5" y="173.32" font-size="12" text-anchor="middle" >50</text>
<text x="670.3" y="173.32" font-size="12" text-anchor="middle" >60</text>
<text x="426.9" y="317.72" font-size="12" text-anchor="middle" >0</text>
<text x="466.2" y="317.72" font-size="12" text-anchor="middle" >10</text>
<text x="506.5" y="317.72" font-size="12" text-anchor="middle" >20</text>
<text x="546.8" y="317.72" font-size="12" text-anchor="middle" >30</text>
<text x="588" y="317.72" font-size="12" text-anchor="middle" >40</text>
<text x="629.8" y="317.72" font-size="12" text-anchor="middle" >50</text>
<text x="670.1" y="317.72" font-size="12" text-anchor="middle" >60</text>
<text x="429.6" y="445.02" font-size="12" text-anchor="middle" >0</text>
<text x="468.9" y="445.02" font-size="12" text-anchor="middle" >10</text>
<text x="509.2" y="445.02" font-size="12" text-anchor="middle" >20</text>
<text x="550.5" y="445.02" font-size="12" text-anchor="middle" >30</text>
<text x="590.8" y="445.02" font-size="12" text-anchor="middle" >40</text>
<text x="631" y="445.02" font-size="12" text-anchor="middle" >50</text>
<text x="671.3" y="445.02" font-size="12" text-anchor="middle" >60</text>
<text x="79.3" y="641.12" font-size="12" text-anchor="middle" >0</text>
<text x="107.4" y="641.12" font-size="12" text-anchor="middle" >10</text>
<text x="134.2" y="641.12" font-size="12" text-anchor="middle" >20</text>
<text x="161.5" y="641.12" font-size="12" text-anchor="middle" >30</text>
<text x="189.3" y="641.12" font-size="12" text-anchor="middle" >40</text>
<text x="217.3" y="641.12" font-size="12" text-anchor="middle" >50</text>
<text x="245" y="641.12" font-size="12" text-anchor="middle" >60</text>
<text x="272.5" y="641.12" font-size="12" text-anchor="middle" >70</text>
<text x="300.2" y="641.12" font-size="12" text-anchor="middle" >80</text>
<text x="77.7" y="796.82" font-size="12" text-anchor="middle" >0</text>
<text x="106" y="796.82" font-size="12" text-anchor="middle" >10</text>
<text x="133.3" y="796.82" font-size="12" text-anchor="middle" >20</text>
<text x="160.6" y="796.82" font-size="12" text-anchor="middle" >30</text>
<text x="188.9" y="796.82" font-size="12" text-anchor="middle" >40</text>
<text x="216.2" y="796.82" font-size="12" text-anchor="middle" >50</text>
<text x="243.5" y="796.82" font-size="12" text-anchor="middle" >60</text>
<text x="270.8" y="796.82" font-size="12" text-anchor="middle" >70</text>
<text x="299.1" y="796.82" font-size="12" text-anchor="middle" >80</text>
<text x="78.7" y="937.22" font-size="12" text-anchor="middle" >0</text>
<text x="107" y="937.22" font-size="12" text-anchor="middle" >10</text>
<text x="134.3" y="937.22" font-size="12" text-anchor="middle" >20</text>
<text x="161.6" y="937.22" font-size="12" text-anchor="middle" >30</text>
<text x="188.9" y="937.22" font-size="12" text-anchor="middle" >40</text>
<text x="217.2" y="937.22" font-size="12" text-anchor="middle" >50</text>
<text x="244.5" y="937.22" font-size="12" text-anchor="middle" >60</text>
<text x="272.3" y="937.22" font-size="12" text-anchor="middle" >70</text>
<text x="299.6" y="937.22" font-size="12" text-anchor="middle" >80</text>
<text x="435" y="647.12" font-size="12" text-anchor="middle" >0</text>
<text x="463.6" y="647.12" font-size="12" text-anchor="middle" >10</text>
<text x="490.2" y="647.12" font-size="12" text-anchor="middle" >20</text>
<text x="518" y="647.12" font-size="12" text-anchor="middle" >30</text>
<text x="545.6" y="647.12" font-size="12" text-anchor="middle" >40</text>
<text x="573.3" y="647.12" font-size="12" text-anchor="middle" >50</text>
<text x="601" y="647.12" font-size="12" text-anchor="middle" >60</text>
<text x="628.2" y="647.12" font-size="12" text-anchor="middle" >70</text>
<text x="655.4" y="647.12" font-size="12" text-anchor="middle" >80</text>
<text x="435.8" y="793.02" font-size="12" text-anchor="middle" >0</text>
<text x="464.4" y="793.02" font-size="12" text-anchor="middle" >10</text>
<text x="492" y="793.02" font-size="12" text-anchor="middle" >20</text>
<text x="519.8" y="793.02" font-size="12" text-anchor="middle" >30</text>
<text x="546.4" y="793.02" font-size="12" text-anchor="middle" >40</text>
<text x="574.1" y="793.02" font-size="12" text-anchor="middle" >50</text>
<text x="601.8" y="793.02" font-size="12" text-anchor="middle" >60</text>
<text x="629.5" y="793.02" font-size="12" text-anchor="middle" >70</text>
<text x="657.2" y="793.02" font-size="12" text-anchor="middle" >80</text>
<text x="437.1" y="943.22" font-size="12" text-anchor="middle" >0</text>
<text x="465.2" y="943.22" font-size="12" text-anchor="middle" >10</text>
<text x="492.8" y="943.22" font-size="12" text-anchor="middle" >20</text>
<text x="520.6" y="943.22" font-size="12" text-anchor="middle" >30</text>
<text x="547.2" y="943.22" font-size="12" text-anchor="middle" >40</text>
<text x="574.9" y="943.22" font-size="12" text-anchor="middle" >50</text>
<text x="602.6" y="943.22" font-size="12" text-anchor="middle" >60</text>
<text x="630.3" y="943.22" font-size="12" text-anchor="middle" >70</text>
<text x="658" y="943.22" font-size="12" text-anchor="middle" >80</text>
<text transform="translate(26.5,108.9) rotate(-90)" x="0" y="0" font-size="16.6" text-anchor="middle">GLP-1 (pM)</text>
<text transform="translate(25.6,247.9) rotate(-90)" x="0" y="0" font-size="16.6" text-anchor="middle">Insulin (nM)</text>
<text transform="translate(25,384.3) rotate(-90)" x="0" y="0" font-size="16.6" text-anchor="middle">Glucagon (nM)</text>
<text transform="translate(376,104.8) rotate(-90)" x="0" y="0" font-size="16.6" text-anchor="middle">GLP-1 (pM)</text>
<text transform="translate(379,251.7) rotate(-90)" x="0" y="0" font-size="16.6" text-anchor="middle">Insulin (nM)</text>
<text transform="translate(378.8,385.4) rotate(-90)" x="0" y="0" font-size="16.6" text-anchor="middle">Glucagon (nM)</text>
<text transform="translate(27.4,575.4) rotate(-90)" x="0" y="0" font-size="16.6" text-anchor="middle">GLP-1 (pM)</text>
<text transform="translate(25.6,725.7) rotate(-90)" x="0" y="0" font-size="16.6" text-anchor="middle">Insulin (nM)</text>
<text transform="translate(24.2,871.4) rotate(-90)" x="0" y="0" font-size="16.6" text-anchor="middle">Glucagon (nM)</text>
<text transform="translate(384.4,580.6) rotate(-90)" x="0" y="0" font-size="16.6" text-anchor="middle">GLP-1 (pM)</text>
<text transform="translate(384,730.6) rotate(-90)" x="0" y="0" font-size="16.6" text-anchor="middle">Insulin (nM)</text>
<text transform="translate(384.2,870.3) rotate(-90)" x="0" y="0" font-size="16.6" text-anchor="middle">Glucagon (nM)</text>
<text x="1.8" y="30" font-size="39" transform="translate(1.8,0) scale(0.94,1) translate(-1.8,0)">a</text>
<text x="358" y="26" font-size="33">b</text>
<text x="3.5" y="500.5" font-size="33">c</text>
<text x="362.5" y="500.7" font-size="33" transform="translate(362.5,0) scale(1.08,1) translate(-362.5,0)">d</text>
<rect x="155.2" y="20.5" width="149.5" height="27.1" fill="none" stroke="#2a2a2a" stroke-width="1.3"/>
<text x="230.2" y="40.64" font-size="14" text-anchor="middle" >EX4</text>
<rect x="506.1" y="19.7" width="168.4" height="29.1" fill="none" stroke="#2a2a2a" stroke-width="1.3"/>
<line x1="599.6" y1="19.7" x2="599.6" y2="48.8" stroke="#2a2a2a" stroke-width="1.3"/>
<text x="548.7" y="41.44" font-size="14" text-anchor="middle" >EX4</text>
<text x="638.8" y="41.44" font-size="14" text-anchor="middle" >IBMX</text>
<rect x="139.2" y="481.7" width="167.8" height="26.3" fill="none" stroke="#2a2a2a" stroke-width="1.3"/>
<line x1="248.7" y1="481.7" x2="248.7" y2="508" stroke="#2a2a2a" stroke-width="1.3"/>
<text x="195.2" y="501.26" font-size="13.5" text-anchor="middle" >EX4</text>
<text x="276.9" y="501.26" font-size="13.5" text-anchor="middle" >IBMX</text>
<rect x="491.1" y="485" width="170.5" height="25.5" fill="none" stroke="#2a2a2a" stroke-width="1.3"/>
<line x1="598.5" y1="485" x2="598.5" y2="510.5" stroke="#2a2a2a" stroke-width="1.3"/>
<text x="544.6" y="505.16" font-size="13.5" text-anchor="middle" >EX4</text>
<text x="628.7" y="505.16" font-size="13.5" text-anchor="middle" >IBMX</text>
<line x1="146.8" y1="248.6" x2="150.76" y2="232.97" stroke="#f5200f" stroke-width="3.0" stroke-linecap="round"/>
<polygon points="152.6,225.7 154.88,235.04 146.15,232.83" fill="#f5200f"/>
<line x1="504.6" y1="250" x2="509.93" y2="234.68" stroke="#f5200f" stroke-width="3.0" stroke-linecap="round"/>
<polygon points="512.4,227.6 513.85,237.11 505.36,234.15" fill="#f5200f"/>
<line x1="590.9" y1="241.9" x2="596.53" y2="226.45" stroke="#f5200f" stroke-width="3.0" stroke-linecap="round"/>
<polygon points="599.1,219.4 600.42,228.93 591.96,225.85" fill="#f5200f"/>
<line x1="616.2" y1="368.7" x2="630.09" y2="383.1" stroke="#1428ee" stroke-width="3.0" stroke-linecap="round"/>
<polygon points="635.3,388.5 626.16,385.51 632.64,379.26" fill="#1428ee"/>
<line x1="260.5" y1="543.4" x2="269.66" y2="527.5" stroke="#f5200f" stroke-width="3.0" stroke-linecap="round"/>
<polygon points="273.4,521 273.06,530.61 265.26,526.12" fill="#f5200f"/>
<line x1="135.1" y1="716.8" x2="143.36" y2="701.41" stroke="#f5200f" stroke-width="3.0" stroke-linecap="round"/>
<polygon points="146.9,694.8 146.85,704.42 138.92,700.16" fill="#f5200f"/>
<line x1="255.7" y1="690.5" x2="264.65" y2="674.45" stroke="#f5200f" stroke-width="3.0" stroke-linecap="round"/>
<polygon points="268.3,667.9 268.09,677.52 260.23,673.13" fill="#f5200f"/>
<line x1="139.6" y1="856.8" x2="148.45" y2="840.95" stroke="#f5200f" stroke-width="3.0" stroke-linecap="round"/>
<polygon points="152.1,834.4 151.89,844.02 144.03,839.63" fill="#f5200f"/>
<line x1="196" y1="828.8" x2="201.28" y2="848.75" stroke="#1428ee" stroke-width="3.0" stroke-linecap="round"/>
<polygon points="203.2,856 196.67,848.93 205.38,846.63" fill="#1428ee"/>
<line x1="610" y1="569" x2="619.18" y2="553.46" stroke="#f5200f" stroke-width="3.0" stroke-linecap="round"/>
<polygon points="623,547 622.55,556.61 614.8,552.03" fill="#f5200f"/>
<line x1="491.8" y1="755.1" x2="501.05" y2="739.09" stroke="#f5200f" stroke-width="3.0" stroke-linecap="round"/>
<polygon points="504.8,732.6 504.44,742.21 496.65,737.71" fill="#f5200f"/>
<line x1="606.2" y1="704.1" x2="615.11" y2="688.33" stroke="#f5200f" stroke-width="3.0" stroke-linecap="round"/>
<polygon points="618.8,681.8 618.54,691.41 610.7,686.99" fill="#f5200f"/>
<line x1="492.8" y1="848" x2="501.92" y2="831.83" stroke="#f5200f" stroke-width="3.0" stroke-linecap="round"/>
<polygon points="505.6,825.3 505.34,834.91 497.51,830.49" fill="#f5200f"/>
<line x1="526.6" y1="826.1" x2="531.57" y2="845.83" stroke="#1428ee" stroke-width="3.0" stroke-linecap="round"/>
<polygon points="533.4,853.1 526.96,845.96 535.69,843.76" fill="#1428ee"/>
<line x1="614.3" y1="884.2" x2="633.89" y2="874.44" stroke="#f5200f" stroke-width="3.0" stroke-linecap="round"/>
<polygon points="640.6,871.1 635,878.92 630.99,870.86" fill="#f5200f"/>
</svg>
</body></html>
